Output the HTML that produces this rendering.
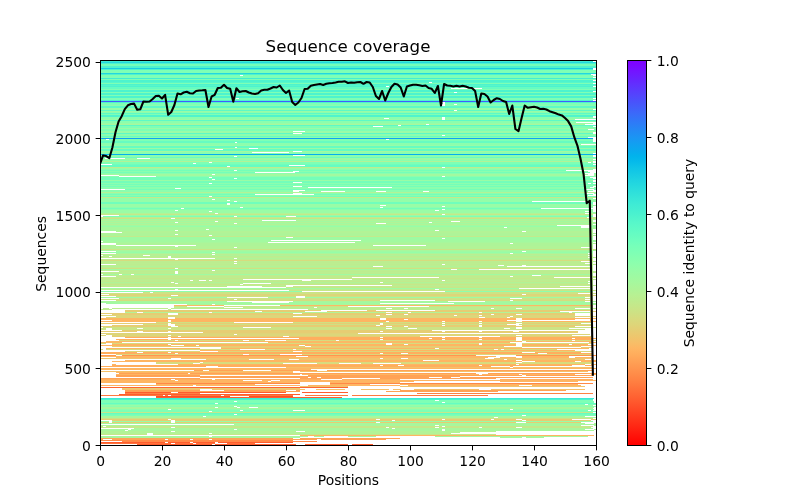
<!DOCTYPE html>
<html><head><meta charset="utf-8"><title>Sequence coverage</title>
<style>html,body{margin:0;padding:0;background:#fff;width:800px;height:500px;overflow:hidden}svg{display:block}text{font-family:'DejaVu Sans','Liberation Sans',sans-serif;font-size:13.889px;fill:#000}</style>
</head><body>
<svg width="800" height="500" viewBox="0 0 800 500">
<defs><linearGradient id="cb" x1="0" y1="0" x2="0" y2="1"><stop offset="0.0000" stop-color="#8000ff"/><stop offset="0.0156" stop-color="#7a09ff"/><stop offset="0.0312" stop-color="#7216ff"/><stop offset="0.0469" stop-color="#6922fe"/><stop offset="0.0625" stop-color="#622ffe"/><stop offset="0.0781" stop-color="#5a3bfd"/><stop offset="0.0938" stop-color="#5247fc"/><stop offset="0.1094" stop-color="#4953fb"/><stop offset="0.1250" stop-color="#425ffa"/><stop offset="0.1406" stop-color="#3a6bf9"/><stop offset="0.1562" stop-color="#3176f8"/><stop offset="0.1719" stop-color="#2981f6"/><stop offset="0.1875" stop-color="#218cf4"/><stop offset="0.2031" stop-color="#1a96f3"/><stop offset="0.2188" stop-color="#11a0f1"/><stop offset="0.2344" stop-color="#09a9ee"/><stop offset="0.2500" stop-color="#01b3ec"/><stop offset="0.2656" stop-color="#06bbea"/><stop offset="0.2812" stop-color="#0fc4e7"/><stop offset="0.2969" stop-color="#17cbe4"/><stop offset="0.3125" stop-color="#1fd3e1"/><stop offset="0.3281" stop-color="#26dade"/><stop offset="0.3438" stop-color="#2fe0db"/><stop offset="0.3594" stop-color="#37e6d8"/><stop offset="0.3750" stop-color="#3febd5"/><stop offset="0.3906" stop-color="#46efd1"/><stop offset="0.4062" stop-color="#4ef3cd"/><stop offset="0.4219" stop-color="#57f7ca"/><stop offset="0.4375" stop-color="#5efac6"/><stop offset="0.4531" stop-color="#66fcc2"/><stop offset="0.4688" stop-color="#6efebe"/><stop offset="0.4844" stop-color="#77ffb9"/><stop offset="0.5000" stop-color="#7effb5"/><stop offset="0.5156" stop-color="#86ffb0"/><stop offset="0.5312" stop-color="#8efeac"/><stop offset="0.5469" stop-color="#97fca7"/><stop offset="0.5625" stop-color="#9efaa2"/><stop offset="0.5781" stop-color="#a6f89d"/><stop offset="0.5938" stop-color="#aef498"/><stop offset="0.6094" stop-color="#b7f193"/><stop offset="0.6250" stop-color="#beec8e"/><stop offset="0.6406" stop-color="#c6e789"/><stop offset="0.6562" stop-color="#cee184"/><stop offset="0.6719" stop-color="#d7db7e"/><stop offset="0.6875" stop-color="#ded579"/><stop offset="0.7031" stop-color="#e6cd73"/><stop offset="0.7188" stop-color="#eec66d"/><stop offset="0.7344" stop-color="#f7be68"/><stop offset="0.7500" stop-color="#feb562"/><stop offset="0.7656" stop-color="#ffac5c"/><stop offset="0.7812" stop-color="#ffa256"/><stop offset="0.7969" stop-color="#ff9850"/><stop offset="0.8125" stop-color="#ff8e4a"/><stop offset="0.8281" stop-color="#ff8444"/><stop offset="0.8438" stop-color="#ff793e"/><stop offset="0.8594" stop-color="#ff6d38"/><stop offset="0.8750" stop-color="#ff6232"/><stop offset="0.8906" stop-color="#ff562c"/><stop offset="0.9062" stop-color="#ff4a26"/><stop offset="0.9219" stop-color="#ff3e1f"/><stop offset="0.9375" stop-color="#ff3219"/><stop offset="0.9531" stop-color="#ff2613"/><stop offset="0.9688" stop-color="#ff190d"/><stop offset="0.9844" stop-color="#ff0d06"/><stop offset="1.0000" stop-color="#ff0000"/></linearGradient>
<clipPath id="ax"><rect x="100" y="60" width="496" height="385"/></clipPath></defs>
<rect width="800" height="500" fill="#fff"/>
<g shape-rendering="crispEdges">
<rect x="100" y="60" width="496" height="2" fill="#3dead5"/>
<rect x="100" y="62" width="496" height="1" fill="#22d6e0"/>
<rect x="100" y="63" width="496" height="1" fill="#4df3ce"/>
<rect x="100" y="64" width="496" height="2" fill="#74feba"/>
<rect x="100" y="66" width="496" height="2" fill="#4df3ce"/>
<rect x="100" y="68" width="496" height="1" fill="#19cde4"/>
<rect x="100" y="69" width="496" height="1" fill="#4df3ce"/>
<rect x="100" y="70" width="496" height="3" fill="#7effb5"/>
<rect x="100" y="73" width="496" height="1" fill="#22d6e0"/>
<rect x="100" y="74" width="496" height="1" fill="#4df3ce"/>
<rect x="100" y="75" width="496" height="3" fill="#7effb5"/>
<rect x="100" y="78" width="496" height="1" fill="#42edd3"/>
<rect x="100" y="79" width="496" height="1" fill="#7effb5"/>
<rect x="100" y="80" width="496" height="2" fill="#4df3ce"/>
<rect x="100" y="82" width="496" height="1" fill="#57f7ca"/>
<rect x="100" y="83" width="496" height="1" fill="#7effb5"/>
<rect x="100" y="84" width="496" height="1" fill="#4df3ce"/>
<rect x="100" y="85" width="496" height="1" fill="#57f7ca"/>
<rect x="100" y="86" width="496" height="1" fill="#4df3ce"/>
<rect x="100" y="87" width="496" height="2" fill="#66fcc2"/>
<rect x="100" y="89" width="496" height="1" fill="#7effb5"/>
<rect x="100" y="90" width="496" height="2" fill="#4df3ce"/>
<rect x="100" y="92" width="496" height="1" fill="#7effb5"/>
<rect x="100" y="93" width="496" height="2" fill="#4df3ce"/>
<rect x="100" y="95" width="496" height="1" fill="#7effb5"/>
<rect x="100" y="96" width="496" height="2" fill="#4df3ce"/>
<rect x="100" y="98" width="496" height="2" fill="#7effb5"/>
<rect x="100" y="100" width="496" height="1" fill="#4df3ce"/>
<rect x="100" y="101" width="496" height="1" fill="#435cfb"/>
<rect x="100" y="102" width="496" height="1" fill="#4df3ce"/>
<rect x="100" y="103" width="496" height="2" fill="#7effb5"/>
<rect x="100" y="105" width="496" height="1" fill="#8bfeae"/>
<rect x="100" y="106" width="496" height="2" fill="#5df9c7"/>
<rect x="100" y="108" width="496" height="2" fill="#95fda8"/>
<rect x="100" y="110" width="496" height="1" fill="#5df9c7"/>
<rect x="100" y="111" width="496" height="1" fill="#99fca6"/>
<rect x="100" y="112" width="496" height="1" fill="#8bfeae"/>
<rect x="100" y="113" width="496" height="1" fill="#5df9c7"/>
<rect x="100" y="114" width="496" height="1" fill="#7effb5"/>
<rect x="100" y="115" width="496" height="2" fill="#50f4cc"/>
<rect x="100" y="117" width="496" height="2" fill="#8bfeae"/>
<rect x="100" y="119" width="496" height="1" fill="#99fca6"/>
<rect x="100" y="120" width="496" height="1" fill="#5df9c7"/>
<rect x="100" y="121" width="496" height="2" fill="#8bfeae"/>
<rect x="100" y="123" width="496" height="1" fill="#99fca6"/>
<rect x="100" y="124" width="496" height="1" fill="#a8f79c"/>
<rect x="100" y="125" width="496" height="1" fill="#5df9c7"/>
<rect x="100" y="126" width="496" height="2" fill="#7effb5"/>
<rect x="100" y="128" width="496" height="1" fill="#99fca6"/>
<rect x="100" y="129" width="496" height="2" fill="#7effb5"/>
<rect x="100" y="131" width="496" height="2" fill="#99fca6"/>
<rect x="100" y="133" width="496" height="1" fill="#5df9c7"/>
<rect x="100" y="134" width="496" height="2" fill="#8bfeae"/>
<rect x="100" y="136" width="496" height="1" fill="#66fcc2"/>
<rect x="100" y="137" width="496" height="1" fill="#8bfeae"/>
<rect x="100" y="138" width="496" height="1" fill="#10a2f0"/>
<rect x="100" y="139" width="496" height="2" fill="#7effb5"/>
<rect x="100" y="141" width="496" height="2" fill="#66fcc2"/>
<rect x="100" y="143" width="496" height="2" fill="#8bfeae"/>
<rect x="100" y="145" width="496" height="1" fill="#95fda8"/>
<rect x="100" y="146" width="496" height="2" fill="#66fcc2"/>
<rect x="100" y="148" width="496" height="1" fill="#99fca6"/>
<rect x="100" y="149" width="496" height="2" fill="#66fcc2"/>
<rect x="100" y="151" width="496" height="1" fill="#a2f9a0"/>
<rect x="100" y="152" width="496" height="2" fill="#8bfeae"/>
<rect x="100" y="154" width="496" height="1" fill="#05aeed"/>
<rect x="100" y="155" width="496" height="2" fill="#8bfeae"/>
<rect x="100" y="157" width="496" height="1" fill="#6bfdc0"/>
<rect x="100" y="158" width="496" height="2" fill="#99fca6"/>
<rect x="100" y="160" width="496" height="1" fill="#8bfeae"/>
<rect x="100" y="161" width="496" height="1" fill="#b2f396"/>
<rect x="100" y="162" width="496" height="2" fill="#7effb5"/>
<rect x="100" y="164" width="496" height="1" fill="#70febc"/>
<rect x="100" y="165" width="496" height="2" fill="#66fcc2"/>
<rect x="100" y="167" width="496" height="1" fill="#bced8f"/>
<rect x="100" y="168" width="496" height="1" fill="#99fca6"/>
<rect x="100" y="169" width="496" height="1" fill="#8bfeae"/>
<rect x="100" y="170" width="496" height="1" fill="#74feba"/>
<rect x="100" y="171" width="496" height="1" fill="#8bfeae"/>
<rect x="100" y="172" width="496" height="1" fill="#74feba"/>
<rect x="100" y="173" width="496" height="1" fill="#8bfeae"/>
<rect x="100" y="174" width="496" height="2" fill="#a2f9a0"/>
<rect x="100" y="176" width="496" height="1" fill="#8bfeae"/>
<rect x="100" y="177" width="496" height="3" fill="#74feba"/>
<rect x="100" y="180" width="496" height="1" fill="#99fca6"/>
<rect x="100" y="181" width="496" height="2" fill="#74feba"/>
<rect x="100" y="183" width="496" height="1" fill="#8bfeae"/>
<rect x="100" y="184" width="496" height="1" fill="#74feba"/>
<rect x="100" y="185" width="496" height="1" fill="#8bfeae"/>
<rect x="100" y="186" width="496" height="1" fill="#74feba"/>
<rect x="100" y="187" width="496" height="2" fill="#8bfeae"/>
<rect x="100" y="189" width="496" height="1" fill="#74feba"/>
<rect x="100" y="190" width="496" height="2" fill="#8bfeae"/>
<rect x="100" y="192" width="496" height="1" fill="#b2f396"/>
<rect x="100" y="193" width="496" height="1" fill="#8bfeae"/>
<rect x="100" y="194" width="496" height="1" fill="#74feba"/>
<rect x="100" y="195" width="496" height="1" fill="#8bfeae"/>
<rect x="100" y="196" width="496" height="1" fill="#74feba"/>
<rect x="100" y="197" width="496" height="1" fill="#c2ea8c"/>
<rect x="100" y="198" width="496" height="4" fill="#95fda8"/>
<rect x="100" y="202" width="496" height="2" fill="#70febc"/>
<rect x="100" y="204" width="496" height="3" fill="#99fca6"/>
<rect x="100" y="207" width="496" height="1" fill="#8bfeae"/>
<rect x="100" y="208" width="496" height="1" fill="#74feba"/>
<rect x="100" y="209" width="496" height="1" fill="#8bfeae"/>
<rect x="100" y="210" width="496" height="3" fill="#99fca6"/>
<rect x="100" y="213" width="496" height="1" fill="#b2f396"/>
<rect x="100" y="214" width="496" height="1" fill="#c6e789"/>
<rect x="100" y="215" width="496" height="1" fill="#99fca6"/>
<rect x="100" y="216" width="496" height="1" fill="#7bffb7"/>
<rect x="100" y="217" width="496" height="1" fill="#bced8f"/>
<rect x="100" y="218" width="496" height="1" fill="#cce385"/>
<rect x="100" y="219" width="496" height="1" fill="#a2f9a0"/>
<rect x="100" y="220" width="496" height="1" fill="#b2f396"/>
<rect x="100" y="221" width="496" height="1" fill="#a2f9a0"/>
<rect x="100" y="222" width="496" height="1" fill="#b2f396"/>
<rect x="100" y="223" width="496" height="1" fill="#a2f9a0"/>
<rect x="100" y="224" width="496" height="1" fill="#b2f396"/>
<rect x="100" y="225" width="496" height="1" fill="#a2f9a0"/>
<rect x="100" y="226" width="496" height="1" fill="#95fda8"/>
<rect x="100" y="227" width="496" height="4" fill="#a8f79c"/>
<rect x="100" y="231" width="496" height="2" fill="#b2f396"/>
<rect x="100" y="233" width="496" height="3" fill="#aef498"/>
<rect x="100" y="236" width="496" height="1" fill="#c2ea8c"/>
<rect x="100" y="237" width="496" height="3" fill="#9efaa2"/>
<rect x="100" y="240" width="496" height="2" fill="#a2f9a0"/>
<rect x="100" y="242" width="496" height="1" fill="#a8f79c"/>
<rect x="100" y="243" width="496" height="3" fill="#aef498"/>
<rect x="100" y="246" width="496" height="3" fill="#b2f396"/>
<rect x="100" y="249" width="496" height="1" fill="#cce385"/>
<rect x="100" y="250" width="496" height="1" fill="#a8f79c"/>
<rect x="100" y="251" width="496" height="1" fill="#9efaa2"/>
<rect x="100" y="252" width="496" height="1" fill="#95fda8"/>
<rect x="100" y="253" width="496" height="1" fill="#a8f79c"/>
<rect x="100" y="254" width="496" height="1" fill="#bbee91"/>
<rect x="100" y="255" width="496" height="1" fill="#b0f397"/>
<rect x="100" y="256" width="496" height="1" fill="#bced8f"/>
<rect x="100" y="257" width="496" height="1" fill="#bbee91"/>
<rect x="100" y="258" width="496" height="1" fill="#b0f397"/>
<rect x="100" y="259" width="496" height="1" fill="#bced8f"/>
<rect x="100" y="260" width="496" height="1" fill="#d7db7e"/>
<rect x="100" y="261" width="496" height="1" fill="#bbee91"/>
<rect x="100" y="262" width="496" height="1" fill="#bced8f"/>
<rect x="100" y="263" width="496" height="1" fill="#bbee91"/>
<rect x="100" y="264" width="496" height="1" fill="#bced8f"/>
<rect x="100" y="265" width="496" height="1" fill="#bbee91"/>
<rect x="100" y="266" width="496" height="1" fill="#b0f397"/>
<rect x="100" y="267" width="496" height="1" fill="#bced8f"/>
<rect x="100" y="268" width="496" height="1" fill="#d0e082"/>
<rect x="100" y="269" width="496" height="1" fill="#a0faa1"/>
<rect x="100" y="270" width="496" height="1" fill="#bbee91"/>
<rect x="100" y="271" width="496" height="1" fill="#bced8f"/>
<rect x="100" y="272" width="496" height="1" fill="#bbee91"/>
<rect x="100" y="273" width="496" height="1" fill="#bced8f"/>
<rect x="100" y="274" width="496" height="1" fill="#a0faa1"/>
<rect x="100" y="275" width="496" height="1" fill="#bbee91"/>
<rect x="100" y="276" width="496" height="1" fill="#c2ea8c"/>
<rect x="100" y="277" width="496" height="1" fill="#bced8f"/>
<rect x="100" y="278" width="496" height="1" fill="#c6e789"/>
<rect x="100" y="279" width="496" height="1" fill="#bced8f"/>
<rect x="100" y="280" width="496" height="1" fill="#bbee91"/>
<rect x="100" y="281" width="496" height="1" fill="#c2ea8c"/>
<rect x="100" y="282" width="496" height="1" fill="#b0f397"/>
<rect x="100" y="283" width="496" height="1" fill="#bced8f"/>
<rect x="100" y="284" width="496" height="1" fill="#c6e789"/>
<rect x="100" y="285" width="496" height="1" fill="#bbee91"/>
<rect x="100" y="286" width="496" height="1" fill="#c2ea8c"/>
<rect x="100" y="287" width="496" height="1" fill="#c6e789"/>
<rect x="100" y="288" width="496" height="1" fill="#a0faa1"/>
<rect x="100" y="289" width="496" height="1" fill="#bced8f"/>
<rect x="100" y="290" width="496" height="1" fill="#c6e789"/>
<rect x="100" y="291" width="496" height="1" fill="#8efeac"/>
<rect x="100" y="292" width="496" height="2" fill="#cce385"/>
<rect x="100" y="294" width="496" height="2" fill="#dcd67a"/>
<rect x="100" y="296" width="496" height="1" fill="#d0e082"/>
<rect x="100" y="297" width="496" height="1" fill="#9efaa2"/>
<rect x="100" y="298" width="496" height="1" fill="#cce385"/>
<rect x="100" y="299" width="496" height="1" fill="#d0e082"/>
<rect x="100" y="300" width="496" height="1" fill="#d7db7e"/>
<rect x="100" y="301" width="496" height="1" fill="#a8f79c"/>
<rect x="100" y="302" width="496" height="2" fill="#a2f9a0"/>
<rect x="100" y="304" width="496" height="1" fill="#a8f79c"/>
<rect x="100" y="305" width="496" height="1" fill="#fbb965"/>
<rect x="100" y="306" width="496" height="1" fill="#cce385"/>
<rect x="100" y="307" width="496" height="3" fill="#bced8f"/>
<rect x="100" y="310" width="496" height="2" fill="#e6cd73"/>
<rect x="100" y="312" width="496" height="1" fill="#b2f396"/>
<rect x="100" y="313" width="496" height="2" fill="#e6cd73"/>
<rect x="100" y="315" width="496" height="3" fill="#dcd67a"/>
<rect x="100" y="318" width="496" height="4" fill="#feb562"/>
<rect x="100" y="322" width="496" height="1" fill="#d0e082"/>
<rect x="100" y="323" width="496" height="1" fill="#e6cd73"/>
<rect x="100" y="324" width="496" height="1" fill="#d0e082"/>
<rect x="100" y="325" width="496" height="2" fill="#e6cd73"/>
<rect x="100" y="327" width="496" height="3" fill="#cce385"/>
<rect x="100" y="330" width="496" height="3" fill="#e6cd73"/>
<rect x="100" y="333" width="496" height="1" fill="#e0d377"/>
<rect x="100" y="334" width="496" height="2" fill="#dcd67a"/>
<rect x="100" y="336" width="496" height="1" fill="#e6cd73"/>
<rect x="100" y="337" width="496" height="3" fill="#ffae5e"/>
<rect x="100" y="340" width="496" height="1" fill="#d7db7e"/>
<rect x="100" y="341" width="496" height="2" fill="#fbb965"/>
<rect x="100" y="343" width="496" height="1" fill="#d7db7e"/>
<rect x="100" y="344" width="496" height="2" fill="#feb562"/>
<rect x="100" y="346" width="496" height="2" fill="#e6cd73"/>
<rect x="100" y="348" width="496" height="1" fill="#feb562"/>
<rect x="100" y="349" width="496" height="1" fill="#d7db7e"/>
<rect x="100" y="350" width="496" height="1" fill="#feb562"/>
<rect x="100" y="351" width="496" height="1" fill="#dcd67a"/>
<rect x="100" y="352" width="496" height="2" fill="#ffae5e"/>
<rect x="100" y="354" width="496" height="1" fill="#dcd67a"/>
<rect x="100" y="355" width="496" height="1" fill="#ff964f"/>
<rect x="100" y="356" width="496" height="2" fill="#feb562"/>
<rect x="100" y="358" width="496" height="2" fill="#f0c46c"/>
<rect x="100" y="360" width="496" height="2" fill="#feb562"/>
<rect x="100" y="362" width="496" height="2" fill="#d7db7e"/>
<rect x="100" y="364" width="496" height="1" fill="#feb562"/>
<rect x="100" y="365" width="496" height="2" fill="#ffae5e"/>
<rect x="100" y="367" width="496" height="1" fill="#f5c069"/>
<rect x="100" y="368" width="496" height="2" fill="#feb562"/>
<rect x="100" y="370" width="496" height="1" fill="#ffa256"/>
<rect x="100" y="371" width="496" height="1" fill="#f5c069"/>
<rect x="100" y="372" width="496" height="1" fill="#feb562"/>
<rect x="100" y="373" width="496" height="1" fill="#ffa256"/>
<rect x="100" y="374" width="496" height="1" fill="#feb562"/>
<rect x="100" y="375" width="496" height="4" fill="#ffa256"/>
<rect x="100" y="379" width="496" height="1" fill="#ffae5e"/>
<rect x="100" y="380" width="496" height="3" fill="#feb562"/>
<rect x="100" y="383" width="496" height="1" fill="#ff8947"/>
<rect x="100" y="384" width="496" height="2" fill="#feb562"/>
<rect x="100" y="386" width="496" height="1" fill="#f0c46c"/>
<rect x="100" y="387" width="496" height="1" fill="#ff6533"/>
<rect x="100" y="388" width="496" height="1" fill="#e6cd73"/>
<rect x="100" y="389" width="496" height="1" fill="#f5c069"/>
<rect x="100" y="390" width="496" height="2" fill="#ffa256"/>
<rect x="100" y="392" width="496" height="1" fill="#ff5c2f"/>
<rect x="100" y="393" width="496" height="1" fill="#ff8143"/>
<rect x="100" y="394" width="496" height="1" fill="#ff5c2f"/>
<rect x="100" y="395" width="496" height="1" fill="#ff793e"/>
<rect x="100" y="396" width="496" height="1" fill="#ff4d27"/>
<rect x="100" y="397" width="496" height="1" fill="#ff5c2f"/>
<rect x="100" y="398" width="496" height="1" fill="#3dead5"/>
<rect x="100" y="399" width="496" height="1" fill="#4df3ce"/>
<rect x="100" y="400" width="496" height="3" fill="#7effb5"/>
<rect x="100" y="403" width="496" height="1" fill="#66fcc2"/>
<rect x="100" y="404" width="496" height="1" fill="#7effb5"/>
<rect x="100" y="405" width="496" height="1" fill="#99fca6"/>
<rect x="100" y="406" width="496" height="1" fill="#8bfeae"/>
<rect x="100" y="407" width="496" height="2" fill="#a8f79c"/>
<rect x="100" y="409" width="496" height="1" fill="#8bfeae"/>
<rect x="100" y="410" width="496" height="2" fill="#7effb5"/>
<rect x="100" y="412" width="496" height="1" fill="#c6e789"/>
<rect x="100" y="413" width="496" height="1" fill="#66fcc2"/>
<rect x="100" y="414" width="496" height="1" fill="#74feba"/>
<rect x="100" y="415" width="496" height="1" fill="#7effb5"/>
<rect x="100" y="416" width="496" height="2" fill="#a8f79c"/>
<rect x="100" y="418" width="496" height="1" fill="#cce385"/>
<rect x="100" y="419" width="496" height="2" fill="#e6cd73"/>
<rect x="100" y="421" width="496" height="1" fill="#99fca6"/>
<rect x="100" y="422" width="496" height="1" fill="#e6cd73"/>
<rect x="100" y="423" width="496" height="3" fill="#a8f79c"/>
<rect x="100" y="426" width="496" height="2" fill="#c6e789"/>
<rect x="100" y="428" width="496" height="3" fill="#a8f79c"/>
<rect x="100" y="431" width="496" height="3" fill="#b2f396"/>
<rect x="100" y="434" width="496" height="1" fill="#c6e789"/>
<rect x="100" y="435" width="496" height="1" fill="#feb562"/>
<rect x="100" y="436" width="496" height="2" fill="#a8f79c"/>
<rect x="100" y="438" width="496" height="2" fill="#ffa256"/>
<rect x="100" y="440" width="496" height="2" fill="#ff8947"/>
<rect x="100" y="442" width="496" height="1" fill="#ff5c2f"/>
<rect x="100" y="443" width="496" height="1" fill="#ff733b"/>
<rect x="100" y="444" width="496" height="1" fill="#ff5c2f"/>
<rect x="175" y="246" width="2.5" height="1" fill="#fff"/>
<rect x="593" y="246" width="3" height="1" fill="#fff"/>
<rect x="101" y="251" width="15" height="1" fill="#fff"/>
<rect x="522" y="251" width="3.5" height="1" fill="#fff"/>
<rect x="593" y="251" width="3" height="1" fill="#fff"/>
<rect x="212" y="252" width="3" height="1" fill="#fff"/>
<rect x="593" y="252" width="3" height="1" fill="#fff"/>
<rect x="101" y="253" width="15" height="1" fill="#fff"/>
<rect x="510" y="253" width="3" height="1" fill="#fff"/>
<rect x="588" y="253" width="2" height="1" fill="#fff"/>
<rect x="593" y="253" width="3" height="1" fill="#fff"/>
<rect x="212" y="254" width="3" height="1" fill="#fff"/>
<rect x="593" y="254" width="3" height="1" fill="#fff"/>
<rect x="143" y="255" width="7" height="1" fill="#fff"/>
<rect x="101" y="255" width="2" height="1" fill="#fff"/>
<rect x="588" y="255" width="2" height="1" fill="#fff"/>
<rect x="593" y="255" width="3" height="1" fill="#fff"/>
<rect x="109" y="256" width="3" height="1" fill="#fff"/>
<rect x="168" y="256" width="2.5" height="1" fill="#fff"/>
<rect x="593" y="256" width="3" height="1" fill="#fff"/>
<rect x="168" y="257" width="2.5" height="1" fill="#fff"/>
<rect x="588" y="257" width="2" height="1" fill="#fff"/>
<rect x="101" y="258" width="114" height="1" fill="#fff"/>
<rect x="234" y="258" width="2.6999999999999886" height="1" fill="#fff"/>
<rect x="593" y="258" width="3" height="1" fill="#fff"/>
<rect x="175" y="259" width="2.5" height="1" fill="#fff"/>
<rect x="593" y="259" width="3" height="1" fill="#fff"/>
<rect x="101" y="264" width="15" height="1" fill="#fff"/>
<rect x="441.8" y="264" width="3.099999999999966" height="1" fill="#fff"/>
<rect x="175" y="268" width="2.5" height="1" fill="#fff"/>
<rect x="593" y="268" width="3" height="1" fill="#fff"/>
<rect x="212" y="270" width="3" height="1" fill="#fff"/>
<rect x="593" y="270" width="3" height="1" fill="#fff"/>
<rect x="101" y="271" width="17.599999999999994" height="1" fill="#fff"/>
<rect x="175" y="271" width="2.5" height="1" fill="#fff"/>
<rect x="175" y="272" width="2.5" height="1" fill="#fff"/>
<rect x="175" y="273" width="2.5" height="1" fill="#fff"/>
<rect x="593" y="273" width="3" height="1" fill="#fff"/>
<rect x="101" y="274" width="2" height="1" fill="#fff"/>
<rect x="119" y="274" width="3" height="1" fill="#fff"/>
<rect x="131" y="274" width="3" height="1" fill="#fff"/>
<rect x="593" y="274" width="3" height="1" fill="#fff"/>
<rect x="101" y="276" width="15" height="1" fill="#fff"/>
<rect x="510" y="276" width="3" height="1" fill="#fff"/>
<rect x="190" y="280" width="3" height="1" fill="#fff"/>
<rect x="199" y="280" width="7" height="1" fill="#fff"/>
<rect x="209" y="280" width="2.5999999999999943" height="1" fill="#fff"/>
<rect x="301.5" y="280" width="9.5" height="1" fill="#fff"/>
<rect x="441.8" y="280" width="3.099999999999966" height="1" fill="#fff"/>
<rect x="593" y="280" width="3" height="1" fill="#fff"/>
<rect x="171" y="282" width="3.4000000000000057" height="1" fill="#fff"/>
<rect x="379.8" y="282" width="3.099999999999966" height="1" fill="#fff"/>
<rect x="593" y="282" width="3" height="1" fill="#fff"/>
<rect x="175" y="283" width="2.5" height="1" fill="#fff"/>
<rect x="242.6" y="283" width="27.900000000000006" height="1" fill="#fff"/>
<rect x="588" y="283" width="2" height="1" fill="#fff"/>
<rect x="593" y="283" width="3" height="1" fill="#fff"/>
<rect x="101" y="287" width="185" height="1" fill="#fff"/>
<rect x="593" y="287" width="3" height="1" fill="#fff"/>
<rect x="175" y="289" width="2.5" height="1" fill="#fff"/>
<rect x="435" y="289" width="3.6999999999999886" height="1" fill="#fff"/>
<rect x="593" y="289" width="3" height="1" fill="#fff"/>
<rect x="301.5" y="291" width="143.5" height="1" fill="#fff"/>
<rect x="593" y="291" width="3" height="1" fill="#fff"/>
<rect x="101" y="292" width="41.599999999999994" height="1" fill="#fff"/>
<rect x="150" y="292" width="2.6999999999999886" height="1" fill="#fff"/>
<rect x="593" y="292" width="3" height="1" fill="#fff"/>
<rect x="101" y="294" width="8" height="1" fill="#fff"/>
<rect x="522" y="294" width="3.5" height="1" fill="#fff"/>
<rect x="593" y="294" width="3" height="1" fill="#fff"/>
<rect x="171" y="295" width="6.5" height="1" fill="#fff"/>
<rect x="101" y="296" width="15" height="1" fill="#fff"/>
<rect x="296" y="296" width="9" height="1" fill="#fff"/>
<rect x="593" y="296" width="3" height="1" fill="#fff"/>
<rect x="101" y="298" width="17.599999999999994" height="1" fill="#fff"/>
<rect x="168" y="298" width="3" height="1" fill="#fff"/>
<rect x="510" y="298" width="12" height="1" fill="#fff"/>
<rect x="593" y="298" width="3" height="1" fill="#fff"/>
<rect x="101" y="300" width="15" height="1" fill="#fff"/>
<rect x="379.8" y="300" width="55.0" height="1" fill="#fff"/>
<rect x="510" y="300" width="3" height="1" fill="#fff"/>
<rect x="593" y="300" width="3" height="1" fill="#fff"/>
<rect x="101" y="303" width="5" height="1" fill="#fff"/>
<rect x="379.8" y="303" width="74.09999999999997" height="1" fill="#fff"/>
<rect x="101" y="304" width="73" height="1" fill="#fff"/>
<rect x="174" y="304" width="13" height="1" fill="#fff"/>
<rect x="212" y="304" width="3" height="1" fill="#fff"/>
<rect x="101" y="305" width="73" height="1" fill="#fff"/>
<rect x="224" y="305" width="56" height="1" fill="#fff"/>
<rect x="593" y="305" width="3" height="1" fill="#fff"/>
<rect x="101" y="306" width="73" height="1" fill="#fff"/>
<rect x="187" y="306" width="37" height="1" fill="#fff"/>
<rect x="348" y="306" width="80.60000000000002" height="1" fill="#fff"/>
<rect x="593" y="306" width="3" height="1" fill="#fff"/>
<rect x="101" y="307" width="73" height="1" fill="#fff"/>
<rect x="224" y="307" width="19" height="1" fill="#fff"/>
<rect x="314" y="307" width="3" height="1" fill="#fff"/>
<rect x="593" y="307" width="3" height="1" fill="#fff"/>
<rect x="101" y="308" width="2" height="1" fill="#fff"/>
<rect x="109" y="308" width="3" height="1" fill="#fff"/>
<rect x="168" y="308" width="3" height="1" fill="#fff"/>
<rect x="386" y="308" width="5.899999999999977" height="1" fill="#fff"/>
<rect x="403.8" y="308" width="4.199999999999989" height="1" fill="#fff"/>
<rect x="491" y="308" width="2.6999999999999886" height="1" fill="#fff"/>
<rect x="516" y="308" width="6" height="1" fill="#fff"/>
<rect x="575" y="308" width="15" height="1" fill="#fff"/>
<rect x="111.6" y="309" width="56.400000000000006" height="1" fill="#fff"/>
<rect x="171" y="309" width="53" height="1" fill="#fff"/>
<rect x="224" y="309" width="84" height="1" fill="#fff"/>
<rect x="593" y="309" width="3" height="1" fill="#fff"/>
<rect x="101" y="310" width="23.799999999999997" height="1" fill="#fff"/>
<rect x="321" y="310" width="27" height="1" fill="#fff"/>
<rect x="348" y="310" width="19" height="1" fill="#fff"/>
<rect x="376" y="310" width="58.80000000000001" height="1" fill="#fff"/>
<rect x="593" y="310" width="3" height="1" fill="#fff"/>
<rect x="101" y="311" width="23.799999999999997" height="1" fill="#fff"/>
<rect x="255" y="311" width="7" height="1" fill="#fff"/>
<rect x="305" y="311" width="22" height="1" fill="#fff"/>
<rect x="560" y="311" width="30" height="1" fill="#fff"/>
<rect x="101" y="312" width="23.799999999999997" height="1" fill="#fff"/>
<rect x="137" y="312" width="5.599999999999994" height="1" fill="#fff"/>
<rect x="209" y="312" width="2.5999999999999943" height="1" fill="#fff"/>
<rect x="386" y="312" width="5.899999999999977" height="1" fill="#fff"/>
<rect x="408" y="312" width="2.8000000000000114" height="1" fill="#fff"/>
<rect x="569" y="312" width="3" height="1" fill="#fff"/>
<rect x="479" y="312" width="3" height="1" fill="#fff"/>
<rect x="593" y="312" width="3" height="1" fill="#fff"/>
<rect x="168" y="313" width="9.5" height="1" fill="#fff"/>
<rect x="293" y="313" width="8.5" height="1" fill="#fff"/>
<rect x="575" y="313" width="15" height="1" fill="#fff"/>
<rect x="593" y="313" width="3" height="1" fill="#fff"/>
<rect x="168" y="314" width="9.5" height="1" fill="#fff"/>
<rect x="101" y="314" width="11" height="1" fill="#fff"/>
<rect x="386" y="314" width="5.899999999999977" height="1" fill="#fff"/>
<rect x="403.8" y="314" width="4.199999999999989" height="1" fill="#fff"/>
<rect x="491" y="314" width="2.6999999999999886" height="1" fill="#fff"/>
<rect x="516" y="314" width="6" height="1" fill="#fff"/>
<rect x="575" y="314" width="15" height="1" fill="#fff"/>
<rect x="593" y="314" width="3" height="1" fill="#fff"/>
<rect x="101" y="316" width="15" height="1" fill="#fff"/>
<rect x="293" y="316" width="24" height="1" fill="#fff"/>
<rect x="510" y="316" width="3" height="1" fill="#fff"/>
<rect x="168" y="317" width="7" height="1" fill="#fff"/>
<rect x="101" y="317" width="5" height="1" fill="#fff"/>
<rect x="479" y="317" width="5.699999999999989" height="1" fill="#fff"/>
<rect x="507" y="317" width="3" height="1" fill="#fff"/>
<rect x="575" y="317" width="15" height="1" fill="#fff"/>
<rect x="593" y="317" width="3" height="1" fill="#fff"/>
<rect x="168" y="318" width="7" height="1" fill="#fff"/>
<rect x="379.8" y="318" width="6.199999999999989" height="1" fill="#fff"/>
<rect x="516" y="318" width="6" height="1" fill="#fff"/>
<rect x="101" y="320" width="11" height="1" fill="#fff"/>
<rect x="168" y="320" width="3" height="1" fill="#fff"/>
<rect x="516" y="320" width="6" height="1" fill="#fff"/>
<rect x="507" y="320" width="83" height="1" fill="#fff"/>
<rect x="593" y="320" width="3" height="1" fill="#fff"/>
<rect x="168" y="321" width="3" height="1" fill="#fff"/>
<rect x="386" y="321" width="3" height="1" fill="#fff"/>
<rect x="441.8" y="321" width="3.099999999999966" height="1" fill="#fff"/>
<rect x="516" y="321" width="6" height="1" fill="#fff"/>
<rect x="479" y="321" width="3" height="1" fill="#fff"/>
<rect x="101" y="322" width="55" height="1" fill="#fff"/>
<rect x="234" y="322" width="59" height="1" fill="#fff"/>
<rect x="593" y="322" width="3" height="1" fill="#fff"/>
<rect x="234" y="247" width="2.6999999999999886" height="1" fill="#fff"/>
<rect x="581" y="247" width="9" height="1" fill="#fff"/>
<rect x="593" y="247" width="3" height="1" fill="#fff"/>
<rect x="234" y="261" width="2.6999999999999886" height="1" fill="#fff"/>
<rect x="581" y="261" width="9" height="1" fill="#fff"/>
<rect x="234" y="263" width="2.6999999999999886" height="1" fill="#fff"/>
<rect x="585" y="263" width="5" height="1" fill="#fff"/>
<rect x="593" y="263" width="3" height="1" fill="#fff"/>
<rect x="243" y="279" width="109" height="1" fill="#fff"/>
<rect x="239.5" y="284" width="3.0999999999999943" height="1" fill="#fff"/>
<rect x="593" y="284" width="3" height="1" fill="#fff"/>
<rect x="286" y="285" width="105.89999999999998" height="1" fill="#fff"/>
<rect x="227" y="286" width="35" height="1" fill="#fff"/>
<rect x="286" y="286" width="7" height="1" fill="#fff"/>
<rect x="560" y="286" width="30" height="1" fill="#fff"/>
<rect x="593" y="286" width="3" height="1" fill="#fff"/>
<rect x="296" y="297" width="9" height="1" fill="#fff"/>
<rect x="227" y="297" width="41" height="1" fill="#fff"/>
<rect x="585" y="297" width="5" height="1" fill="#fff"/>
<rect x="593" y="297" width="3" height="1" fill="#fff"/>
<rect x="234" y="299" width="2.6999999999999886" height="1" fill="#fff"/>
<rect x="585" y="299" width="5" height="1" fill="#fff"/>
<rect x="593" y="299" width="3" height="1" fill="#fff"/>
<rect x="227" y="301" width="66" height="1" fill="#fff"/>
<rect x="448" y="301" width="36.69999999999999" height="1" fill="#fff"/>
<rect x="585" y="301" width="5" height="1" fill="#fff"/>
<rect x="252" y="302" width="37" height="1" fill="#fff"/>
<rect x="593" y="302" width="3" height="1" fill="#fff"/>
<rect x="372.8" y="266" width="10.099999999999966" height="1" fill="#fff"/>
<rect x="507" y="266" width="83" height="1" fill="#fff"/>
<rect x="593" y="266" width="3" height="1" fill="#fff"/>
<rect x="451" y="269" width="5.800000000000011" height="1" fill="#fff"/>
<rect x="479" y="269" width="111" height="1" fill="#fff"/>
<rect x="593" y="269" width="3" height="1" fill="#fff"/>
<rect x="352" y="277" width="86.69999999999999" height="1" fill="#fff"/>
<rect x="554" y="277" width="36" height="1" fill="#fff"/>
<rect x="376" y="315" width="3.8000000000000114" height="1" fill="#fff"/>
<rect x="454" y="315" width="2.8000000000000114" height="1" fill="#fff"/>
<rect x="479" y="315" width="3" height="1" fill="#fff"/>
<rect x="575" y="315" width="15" height="1" fill="#fff"/>
<rect x="593" y="315" width="3" height="1" fill="#fff"/>
<rect x="379.8" y="319" width="6.199999999999989" height="1" fill="#fff"/>
<rect x="403.8" y="319" width="4.199999999999989" height="1" fill="#fff"/>
<rect x="516" y="319" width="6" height="1" fill="#fff"/>
<rect x="575" y="319" width="15" height="1" fill="#fff"/>
<rect x="593" y="319" width="3" height="1" fill="#fff"/>
<rect x="498" y="265" width="6" height="1" fill="#fff"/>
<rect x="522" y="265" width="3.5" height="1" fill="#fff"/>
<rect x="593" y="265" width="3" height="1" fill="#fff"/>
<rect x="532" y="275" width="9" height="1" fill="#fff"/>
<rect x="593" y="275" width="3" height="1" fill="#fff"/>
<rect x="588" y="281" width="2" height="1" fill="#fff"/>
<rect x="593" y="281" width="3" height="1" fill="#fff"/>
<rect x="519" y="288" width="71" height="1" fill="#fff"/>
<rect x="593" y="288" width="3" height="1" fill="#fff"/>
<rect x="578" y="293" width="12" height="1" fill="#fff"/>
<rect x="168" y="323" width="3" height="1" fill="#fff"/>
<rect x="380" y="323" width="3" height="1" fill="#fff"/>
<rect x="442" y="323" width="3" height="1" fill="#fff"/>
<rect x="479" y="323" width="3" height="1" fill="#fff"/>
<rect x="516" y="323" width="6" height="1" fill="#fff"/>
<rect x="581" y="323" width="15" height="1" fill="#fff"/>
<rect x="593" y="323" width="3" height="1" fill="#fff"/>
<rect x="101" y="324" width="42" height="1" fill="#fff"/>
<rect x="168" y="324" width="7" height="1" fill="#fff"/>
<rect x="380" y="324" width="3" height="1" fill="#fff"/>
<rect x="507" y="324" width="9" height="1" fill="#fff"/>
<rect x="516" y="324" width="3" height="1" fill="#fff"/>
<rect x="593" y="324" width="3" height="1" fill="#fff"/>
<rect x="101" y="325" width="11" height="1" fill="#fff"/>
<rect x="168" y="325" width="7" height="1" fill="#fff"/>
<rect x="376" y="325" width="4" height="1" fill="#fff"/>
<rect x="442" y="325" width="3" height="1" fill="#fff"/>
<rect x="479" y="325" width="3" height="1" fill="#fff"/>
<rect x="516" y="325" width="6" height="1" fill="#fff"/>
<rect x="593" y="325" width="3" height="1" fill="#fff"/>
<rect x="171" y="326" width="6.5" height="1" fill="#fff"/>
<rect x="386" y="326" width="6" height="1" fill="#fff"/>
<rect x="404" y="326" width="4" height="1" fill="#fff"/>
<rect x="479" y="326" width="3" height="1" fill="#fff"/>
<rect x="575" y="326" width="21" height="1" fill="#fff"/>
<rect x="593" y="326" width="3" height="1" fill="#fff"/>
<rect x="101" y="327" width="1.5" height="1" fill="#fff"/>
<rect x="243" y="327" width="28" height="1" fill="#fff"/>
<rect x="516" y="327" width="6" height="1" fill="#fff"/>
<rect x="137" y="328" width="6" height="1" fill="#fff"/>
<rect x="168" y="328" width="3" height="1" fill="#fff"/>
<rect x="105.6" y="328" width="6.400000000000006" height="1" fill="#fff"/>
<rect x="386" y="328" width="6" height="1" fill="#fff"/>
<rect x="408" y="328" width="9" height="1" fill="#fff"/>
<rect x="504" y="328" width="6" height="1" fill="#fff"/>
<rect x="516" y="328" width="6" height="1" fill="#fff"/>
<rect x="569" y="328" width="27" height="1" fill="#fff"/>
<rect x="593" y="328" width="3" height="1" fill="#fff"/>
<rect x="105.6" y="329" width="6.400000000000006" height="1" fill="#fff"/>
<rect x="585" y="329" width="11" height="1" fill="#fff"/>
<rect x="101" y="330" width="21" height="1" fill="#fff"/>
<rect x="432" y="330" width="68" height="1" fill="#fff"/>
<rect x="500" y="330" width="96" height="1" fill="#fff"/>
<rect x="593" y="330" width="3" height="1" fill="#fff"/>
<rect x="137" y="331" width="6" height="1" fill="#fff"/>
<rect x="168" y="331" width="3" height="1" fill="#fff"/>
<rect x="380" y="331" width="3" height="1" fill="#fff"/>
<rect x="442" y="331" width="3" height="1" fill="#fff"/>
<rect x="479" y="331" width="3" height="1" fill="#fff"/>
<rect x="513" y="331" width="6" height="1" fill="#fff"/>
<rect x="578" y="331" width="18" height="1" fill="#fff"/>
<rect x="593" y="331" width="3" height="1" fill="#fff"/>
<rect x="101" y="332" width="99" height="1" fill="#fff"/>
<rect x="200" y="332" width="3" height="1" fill="#fff"/>
<rect x="578" y="332" width="18" height="1" fill="#fff"/>
<rect x="593" y="332" width="3" height="1" fill="#fff"/>
<rect x="101" y="334" width="5" height="1" fill="#fff"/>
<rect x="234" y="334" width="3" height="1" fill="#fff"/>
<rect x="590" y="334" width="6" height="1" fill="#fff"/>
<rect x="105.6" y="335" width="6.400000000000006" height="1" fill="#fff"/>
<rect x="168" y="335" width="3" height="1" fill="#fff"/>
<rect x="516" y="335" width="6" height="1" fill="#fff"/>
<rect x="572" y="335" width="19" height="1" fill="#fff"/>
<rect x="593" y="335" width="3" height="1" fill="#fff"/>
<rect x="101" y="336" width="11" height="1" fill="#fff"/>
<rect x="177.5" y="336" width="3.0999999999999943" height="1" fill="#fff"/>
<rect x="283" y="336" width="6" height="1" fill="#fff"/>
<rect x="420" y="336" width="62" height="1" fill="#fff"/>
<rect x="482" y="336" width="18" height="1" fill="#fff"/>
<rect x="593" y="336" width="3" height="1" fill="#fff"/>
<rect x="101" y="337" width="24" height="1" fill="#fff"/>
<rect x="168" y="337" width="3" height="1" fill="#fff"/>
<rect x="380" y="337" width="3" height="1" fill="#fff"/>
<rect x="442" y="337" width="3" height="1" fill="#fff"/>
<rect x="479" y="337" width="3" height="1" fill="#fff"/>
<rect x="516" y="337" width="6" height="1" fill="#fff"/>
<rect x="591" y="337" width="5" height="1" fill="#fff"/>
<rect x="593" y="337" width="3" height="1" fill="#fff"/>
<rect x="101" y="338" width="24" height="1" fill="#fff"/>
<rect x="168" y="338" width="3" height="1" fill="#fff"/>
<rect x="125" y="338" width="174" height="1" fill="#fff"/>
<rect x="429" y="338" width="3" height="1" fill="#fff"/>
<rect x="516" y="338" width="6" height="1" fill="#fff"/>
<rect x="572" y="338" width="3" height="1" fill="#fff"/>
<rect x="101" y="339" width="14.599999999999994" height="1" fill="#fff"/>
<rect x="168" y="339" width="3" height="1" fill="#fff"/>
<rect x="380" y="339" width="3" height="1" fill="#fff"/>
<rect x="442" y="339" width="3" height="1" fill="#fff"/>
<rect x="479" y="339" width="3" height="1" fill="#fff"/>
<rect x="516" y="339" width="6" height="1" fill="#fff"/>
<rect x="593" y="339" width="3" height="1" fill="#fff"/>
<rect x="101" y="340" width="17.799999999999997" height="1" fill="#fff"/>
<rect x="175" y="340" width="3" height="1" fill="#fff"/>
<rect x="243" y="340" width="6" height="1" fill="#fff"/>
<rect x="265" y="340" width="21" height="1" fill="#fff"/>
<rect x="336" y="340" width="3" height="1" fill="#fff"/>
<rect x="516" y="340" width="6" height="1" fill="#fff"/>
<rect x="572" y="340" width="3" height="1" fill="#fff"/>
<rect x="101" y="341" width="5" height="1" fill="#fff"/>
<rect x="522" y="341" width="4" height="1" fill="#fff"/>
<rect x="593" y="341" width="3" height="1" fill="#fff"/>
<rect x="122" y="342" width="78" height="1" fill="#fff"/>
<rect x="200" y="342" width="68" height="1" fill="#fff"/>
<rect x="510" y="342" width="78.5" height="1" fill="#fff"/>
<rect x="105.6" y="343" width="6.400000000000006" height="1" fill="#fff"/>
<rect x="386" y="343" width="6" height="1" fill="#fff"/>
<rect x="479" y="343" width="3" height="1" fill="#fff"/>
<rect x="516" y="343" width="6" height="1" fill="#fff"/>
<rect x="593" y="343" width="3" height="1" fill="#fff"/>
<rect x="101" y="344" width="11" height="1" fill="#fff"/>
<rect x="168" y="344" width="3" height="1" fill="#fff"/>
<rect x="386" y="344" width="6" height="1" fill="#fff"/>
<rect x="479" y="344" width="3" height="1" fill="#fff"/>
<rect x="404" y="344" width="4" height="1" fill="#fff"/>
<rect x="516" y="344" width="6" height="1" fill="#fff"/>
<rect x="569" y="344" width="3" height="1" fill="#fff"/>
<rect x="588" y="344" width="8" height="1" fill="#fff"/>
<rect x="593" y="344" width="3" height="1" fill="#fff"/>
<rect x="171" y="345" width="12.800000000000011" height="1" fill="#fff"/>
<rect x="196" y="345" width="2.8000000000000114" height="1" fill="#fff"/>
<rect x="299" y="345" width="1" height="1" fill="#fff"/>
<rect x="300" y="345" width="5" height="1" fill="#fff"/>
<rect x="516" y="345" width="6" height="1" fill="#fff"/>
<rect x="101" y="346" width="11" height="1" fill="#fff"/>
<rect x="305" y="346" width="6" height="1" fill="#fff"/>
<rect x="504" y="346" width="18" height="1" fill="#fff"/>
<rect x="581" y="346" width="15" height="1" fill="#fff"/>
<rect x="593" y="346" width="3" height="1" fill="#fff"/>
<rect x="101" y="347" width="99" height="1" fill="#fff"/>
<rect x="209" y="347" width="11.599999999999994" height="1" fill="#fff"/>
<rect x="200" y="347" width="9" height="1" fill="#fff"/>
<rect x="522" y="347" width="59" height="1" fill="#fff"/>
<rect x="593" y="347" width="3" height="1" fill="#fff"/>
<rect x="101" y="348" width="5" height="1" fill="#fff"/>
<rect x="209" y="348" width="11.599999999999994" height="1" fill="#fff"/>
<rect x="200" y="348" width="9" height="1" fill="#fff"/>
<rect x="435" y="348" width="4" height="1" fill="#fff"/>
<rect x="589" y="348" width="7" height="1" fill="#fff"/>
<rect x="593" y="348" width="3" height="1" fill="#fff"/>
<rect x="102.5" y="349" width="3.0999999999999943" height="1" fill="#fff"/>
<rect x="240" y="349" width="25" height="1" fill="#fff"/>
<rect x="293" y="349" width="3" height="1" fill="#fff"/>
<rect x="494" y="349" width="4" height="1" fill="#fff"/>
<rect x="496" y="349" width="2" height="1" fill="#fff"/>
<rect x="501" y="349" width="3" height="1" fill="#fff"/>
<rect x="557" y="349" width="39" height="1" fill="#fff"/>
<rect x="593" y="349" width="3" height="1" fill="#fff"/>
<rect x="101" y="350" width="99" height="1" fill="#fff"/>
<rect x="575" y="350" width="21" height="1" fill="#fff"/>
<rect x="593" y="350" width="3" height="1" fill="#fff"/>
<rect x="101" y="351" width="24" height="1" fill="#fff"/>
<rect x="200" y="351" width="18" height="1" fill="#fff"/>
<rect x="293" y="351" width="7" height="1" fill="#fff"/>
<rect x="300" y="351" width="2" height="1" fill="#fff"/>
<rect x="593" y="351" width="3" height="1" fill="#fff"/>
<rect x="137" y="352" width="6" height="1" fill="#fff"/>
<rect x="168" y="352" width="3" height="1" fill="#fff"/>
<rect x="522" y="352" width="13" height="1" fill="#fff"/>
<rect x="581" y="352" width="15" height="1" fill="#fff"/>
<rect x="593" y="352" width="3" height="1" fill="#fff"/>
<rect x="175" y="353" width="3" height="1" fill="#fff"/>
<rect x="380" y="353" width="3" height="1" fill="#fff"/>
<rect x="401" y="353" width="7" height="1" fill="#fff"/>
<rect x="538" y="353" width="9" height="1" fill="#fff"/>
<rect x="593" y="353" width="3" height="1" fill="#fff"/>
<rect x="101" y="354" width="14.599999999999994" height="1" fill="#fff"/>
<rect x="243" y="354" width="6" height="1" fill="#fff"/>
<rect x="280" y="354" width="20" height="1" fill="#fff"/>
<rect x="300" y="354" width="2" height="1" fill="#fff"/>
<rect x="593" y="354" width="3" height="1" fill="#fff"/>
<rect x="115.6" y="355" width="6.400000000000006" height="1" fill="#fff"/>
<rect x="476" y="355" width="24" height="1" fill="#fff"/>
<rect x="496" y="355" width="20" height="1" fill="#fff"/>
<rect x="101" y="357" width="14.599999999999994" height="1" fill="#fff"/>
<rect x="488" y="357" width="12" height="1" fill="#fff"/>
<rect x="516" y="357" width="6" height="1" fill="#fff"/>
<rect x="569" y="357" width="6" height="1" fill="#fff"/>
<rect x="593" y="357" width="3" height="1" fill="#fff"/>
<rect x="171" y="358" width="10" height="1" fill="#fff"/>
<rect x="380" y="358" width="3" height="1" fill="#fff"/>
<rect x="401" y="358" width="7" height="1" fill="#fff"/>
<rect x="485" y="358" width="9" height="1" fill="#fff"/>
<rect x="593" y="358" width="3" height="1" fill="#fff"/>
<rect x="101" y="359" width="99" height="1" fill="#fff"/>
<rect x="200" y="359" width="6" height="1" fill="#fff"/>
<rect x="249" y="359" width="25" height="1" fill="#fff"/>
<rect x="289" y="359" width="10" height="1" fill="#fff"/>
<rect x="504" y="359" width="3" height="1" fill="#fff"/>
<rect x="585" y="359" width="6" height="1" fill="#fff"/>
<rect x="593" y="359" width="3" height="1" fill="#fff"/>
<rect x="101" y="360" width="24" height="1" fill="#fff"/>
<rect x="423" y="360" width="16" height="1" fill="#fff"/>
<rect x="516" y="360" width="6" height="1" fill="#fff"/>
<rect x="101" y="361" width="11" height="1" fill="#fff"/>
<rect x="522" y="361" width="13" height="1" fill="#fff"/>
<rect x="575" y="361" width="6" height="1" fill="#fff"/>
<rect x="101" y="362" width="54.599999999999994" height="1" fill="#fff"/>
<rect x="200" y="362" width="3" height="1" fill="#fff"/>
<rect x="516" y="362" width="6" height="1" fill="#fff"/>
<rect x="593" y="362" width="3" height="1" fill="#fff"/>
<rect x="101" y="363" width="54.599999999999994" height="1" fill="#fff"/>
<rect x="193" y="363" width="7" height="1" fill="#fff"/>
<rect x="283" y="363" width="17" height="1" fill="#fff"/>
<rect x="300" y="363" width="17" height="1" fill="#fff"/>
<rect x="339" y="363" width="22" height="1" fill="#fff"/>
<rect x="373" y="363" width="27" height="1" fill="#fff"/>
<rect x="400" y="363" width="1" height="1" fill="#fff"/>
<rect x="593" y="363" width="3" height="1" fill="#fff"/>
<rect x="101" y="364" width="11" height="1" fill="#fff"/>
<rect x="115.6" y="364" width="61.900000000000006" height="1" fill="#fff"/>
<rect x="516" y="364" width="3" height="1" fill="#fff"/>
<rect x="585" y="364" width="6" height="1" fill="#fff"/>
<rect x="101" y="365" width="11" height="1" fill="#fff"/>
<rect x="380" y="365" width="3" height="1" fill="#fff"/>
<rect x="398" y="365" width="2" height="1" fill="#fff"/>
<rect x="400" y="365" width="4" height="1" fill="#fff"/>
<rect x="479" y="365" width="3" height="1" fill="#fff"/>
<rect x="572" y="365" width="13" height="1" fill="#fff"/>
<rect x="593" y="365" width="3" height="1" fill="#fff"/>
<rect x="101" y="367" width="99" height="1" fill="#fff"/>
<rect x="200" y="367" width="86" height="1" fill="#fff"/>
<rect x="510" y="367" width="3" height="1" fill="#fff"/>
<rect x="593" y="367" width="3" height="1" fill="#fff"/>
<rect x="101" y="370" width="93" height="1" fill="#fff"/>
<rect x="203" y="370" width="6" height="1" fill="#fff"/>
<rect x="243" y="370" width="28" height="1" fill="#fff"/>
<rect x="317" y="370" width="10" height="1" fill="#fff"/>
<rect x="593" y="370" width="3" height="1" fill="#fff"/>
<rect x="101" y="372" width="14.599999999999994" height="1" fill="#fff"/>
<rect x="293" y="372" width="7" height="1" fill="#fff"/>
<rect x="300" y="372" width="100" height="1" fill="#fff"/>
<rect x="400" y="372" width="100" height="1" fill="#fff"/>
<rect x="496" y="372" width="100" height="1" fill="#fff"/>
<rect x="101" y="373" width="17.799999999999997" height="1" fill="#fff"/>
<rect x="187.5" y="373" width="2.5" height="1" fill="#fff"/>
<rect x="476" y="373" width="12" height="1" fill="#fff"/>
<rect x="101" y="374" width="14.599999999999994" height="1" fill="#fff"/>
<rect x="300" y="374" width="2" height="1" fill="#fff"/>
<rect x="479" y="374" width="3" height="1" fill="#fff"/>
<rect x="519" y="374" width="3" height="1" fill="#fff"/>
<rect x="575" y="374" width="16" height="1" fill="#fff"/>
<rect x="101" y="375" width="14.599999999999994" height="1" fill="#fff"/>
<rect x="200" y="375" width="100" height="1" fill="#fff"/>
<rect x="300" y="375" width="8" height="1" fill="#fff"/>
<rect x="522" y="375" width="4" height="1" fill="#fff"/>
<rect x="593" y="375" width="3" height="1" fill="#fff"/>
<rect x="101" y="376" width="14.599999999999994" height="1" fill="#fff"/>
<rect x="460" y="376" width="40" height="1" fill="#fff"/>
<rect x="496" y="376" width="100" height="1" fill="#fff"/>
<rect x="593" y="376" width="3" height="1" fill="#fff"/>
<rect x="101" y="377" width="99" height="1" fill="#fff"/>
<rect x="308" y="377" width="3" height="1" fill="#fff"/>
<rect x="317" y="377" width="4" height="1" fill="#fff"/>
<rect x="429" y="377" width="13" height="1" fill="#fff"/>
<rect x="451" y="377" width="9" height="1" fill="#fff"/>
<rect x="593" y="377" width="3" height="1" fill="#fff"/>
<rect x="171" y="379" width="4" height="1" fill="#fff"/>
<rect x="212" y="379" width="3" height="1" fill="#fff"/>
<rect x="321" y="379" width="21" height="1" fill="#fff"/>
<rect x="400" y="379" width="100" height="1" fill="#fff"/>
<rect x="593" y="379" width="3" height="1" fill="#fff"/>
<rect x="175" y="380" width="3" height="1" fill="#fff"/>
<rect x="243" y="380" width="19" height="1" fill="#fff"/>
<rect x="271" y="380" width="9" height="1" fill="#fff"/>
<rect x="101" y="383" width="54.599999999999994" height="1" fill="#fff"/>
<rect x="300" y="383" width="30" height="1" fill="#fff"/>
<rect x="593" y="383" width="3" height="1" fill="#fff"/>
<rect x="296" y="356" width="4" height="1" fill="#fff"/>
<rect x="300" y="356" width="8" height="1" fill="#fff"/>
<rect x="496" y="356" width="20" height="1" fill="#fff"/>
<rect x="516" y="356" width="6" height="1" fill="#fff"/>
<rect x="569" y="356" width="27" height="1" fill="#fff"/>
<rect x="593" y="356" width="3" height="1" fill="#fff"/>
<rect x="206" y="366" width="12" height="1" fill="#fff"/>
<rect x="491" y="366" width="9" height="1" fill="#fff"/>
<rect x="496" y="366" width="14" height="1" fill="#fff"/>
<rect x="513" y="366" width="83" height="1" fill="#fff"/>
<rect x="593" y="366" width="3" height="1" fill="#fff"/>
<rect x="293" y="371" width="7" height="1" fill="#fff"/>
<rect x="588" y="371" width="8" height="1" fill="#fff"/>
<rect x="593" y="371" width="3" height="1" fill="#fff"/>
<rect x="200" y="378" width="100" height="1" fill="#fff"/>
<rect x="342" y="378" width="38" height="1" fill="#fff"/>
<rect x="496" y="378" width="100" height="1" fill="#fff"/>
<rect x="593" y="378" width="3" height="1" fill="#fff"/>
<rect x="268" y="381" width="3" height="1" fill="#fff"/>
<rect x="414" y="381" width="86" height="1" fill="#fff"/>
<rect x="578" y="381" width="18" height="1" fill="#fff"/>
<rect x="593" y="381" width="3" height="1" fill="#fff"/>
<rect x="255" y="384" width="45" height="1" fill="#fff"/>
<rect x="300" y="384" width="30" height="1" fill="#fff"/>
<rect x="370" y="384" width="30" height="1" fill="#fff"/>
<rect x="101" y="384" width="54.599999999999994" height="1" fill="#fff"/>
<rect x="255" y="384" width="45" height="1" fill="#fff"/>
<rect x="300" y="384" width="7.5" height="1" fill="#fff"/>
<rect x="578" y="384" width="18" height="1" fill="#fff"/>
<rect x="358" y="333" width="42" height="1" fill="#fff"/>
<rect x="400" y="333" width="100" height="1" fill="#fff"/>
<rect x="500" y="333" width="96" height="1" fill="#fff"/>
<rect x="593" y="333" width="3" height="1" fill="#fff"/>
<rect x="311" y="369" width="89" height="1" fill="#fff"/>
<rect x="400" y="369" width="100" height="1" fill="#fff"/>
<rect x="496" y="369" width="100" height="1" fill="#fff"/>
<rect x="300" y="382" width="30" height="1" fill="#fff"/>
<rect x="400" y="382" width="100" height="1" fill="#fff"/>
<rect x="496" y="382" width="100" height="1" fill="#fff"/>
<rect x="593" y="382" width="3" height="1" fill="#fff"/>
<rect x="192.5" y="385" width="3.5" height="1" fill="#fff"/>
<rect x="300" y="385" width="8" height="1" fill="#fff"/>
<rect x="400" y="385" width="8" height="1" fill="#fff"/>
<rect x="519" y="385" width="13" height="1" fill="#fff"/>
<rect x="581" y="385" width="15" height="1" fill="#fff"/>
<rect x="593" y="385" width="3" height="1" fill="#fff"/>
<rect x="101" y="386" width="99" height="1" fill="#fff"/>
<rect x="200" y="386" width="100" height="1" fill="#fff"/>
<rect x="347.5" y="386" width="52.5" height="1" fill="#fff"/>
<rect x="585" y="386" width="11" height="1" fill="#fff"/>
<rect x="593" y="386" width="3" height="1" fill="#fff"/>
<rect x="101" y="388" width="21" height="1" fill="#fff"/>
<rect x="300" y="388" width="100" height="1" fill="#fff"/>
<rect x="400" y="388" width="100" height="1" fill="#fff"/>
<rect x="496" y="388" width="100" height="1" fill="#fff"/>
<rect x="593" y="388" width="3" height="1" fill="#fff"/>
<rect x="101" y="389" width="21" height="1" fill="#fff"/>
<rect x="200" y="389" width="12" height="1" fill="#fff"/>
<rect x="305" y="389" width="11" height="1" fill="#fff"/>
<rect x="345" y="389" width="16" height="1" fill="#fff"/>
<rect x="388.7" y="389" width="3.8000000000000114" height="1" fill="#fff"/>
<rect x="401" y="389" width="13" height="1" fill="#fff"/>
<rect x="479" y="389" width="12" height="1" fill="#fff"/>
<rect x="585" y="389" width="11" height="1" fill="#fff"/>
<rect x="101" y="390" width="24" height="1" fill="#fff"/>
<rect x="200" y="390" width="24" height="1" fill="#fff"/>
<rect x="286" y="390" width="10" height="1" fill="#fff"/>
<rect x="300" y="390" width="100" height="1" fill="#fff"/>
<rect x="566" y="390" width="30" height="1" fill="#fff"/>
<rect x="593" y="390" width="3" height="1" fill="#fff"/>
<rect x="101" y="391" width="24" height="1" fill="#fff"/>
<rect x="300" y="391" width="86" height="1" fill="#fff"/>
<rect x="498" y="391" width="2" height="1" fill="#fff"/>
<rect x="498" y="391" width="98" height="1" fill="#fff"/>
<rect x="101" y="392" width="24" height="1" fill="#fff"/>
<rect x="170.6" y="392" width="7.400000000000006" height="1" fill="#fff"/>
<rect x="286" y="392" width="14" height="1" fill="#fff"/>
<rect x="300" y="392" width="2" height="1" fill="#fff"/>
<rect x="348" y="392" width="52" height="1" fill="#fff"/>
<rect x="400" y="392" width="100" height="1" fill="#fff"/>
<rect x="496" y="392" width="100" height="1" fill="#fff"/>
<rect x="593" y="392" width="3" height="1" fill="#fff"/>
<rect x="101" y="393" width="24" height="1" fill="#fff"/>
<rect x="200" y="393" width="100" height="1" fill="#fff"/>
<rect x="300" y="393" width="100" height="1" fill="#fff"/>
<rect x="400" y="393" width="17" height="1" fill="#fff"/>
<rect x="593" y="393" width="3" height="1" fill="#fff"/>
<rect x="101" y="394" width="17.75" height="1" fill="#fff"/>
<rect x="300" y="394" width="100" height="1" fill="#fff"/>
<rect x="400" y="394" width="100" height="1" fill="#fff"/>
<rect x="496" y="394" width="100" height="1" fill="#fff"/>
<rect x="162.5" y="395" width="2.5" height="1" fill="#fff"/>
<rect x="168" y="395" width="3" height="1" fill="#fff"/>
<rect x="221" y="395" width="3" height="1" fill="#fff"/>
<rect x="292.5" y="395" width="7.5" height="1" fill="#fff"/>
<rect x="300" y="395" width="5" height="1" fill="#fff"/>
<rect x="348" y="395" width="4" height="1" fill="#fff"/>
<rect x="488" y="395" width="12" height="1" fill="#fff"/>
<rect x="496" y="395" width="100" height="1" fill="#fff"/>
<rect x="593" y="395" width="3" height="1" fill="#fff"/>
<rect x="101" y="396" width="54.599999999999994" height="1" fill="#fff"/>
<rect x="230" y="396" width="19" height="1" fill="#fff"/>
<rect x="292.5" y="396" width="7.5" height="1" fill="#fff"/>
<rect x="300" y="396" width="100" height="1" fill="#fff"/>
<rect x="400" y="396" width="100" height="1" fill="#fff"/>
<rect x="496" y="396" width="100" height="1" fill="#fff"/>
<rect x="101" y="397" width="54.599999999999994" height="1" fill="#fff"/>
<rect x="342" y="397" width="58" height="1" fill="#fff"/>
<rect x="400" y="397" width="100" height="1" fill="#fff"/>
<rect x="496" y="397" width="100" height="1" fill="#fff"/>
<rect x="593" y="397" width="3" height="1" fill="#fff"/>
<rect x="168" y="409" width="3" height="1" fill="#fff"/>
<rect x="510" y="409" width="3" height="1" fill="#fff"/>
<rect x="594" y="409" width="2" height="1" fill="#fff"/>
<rect x="168" y="419" width="3" height="1" fill="#fff"/>
<rect x="376" y="419" width="4" height="1" fill="#fff"/>
<rect x="442" y="419" width="3" height="1" fill="#fff"/>
<rect x="491" y="419" width="3" height="1" fill="#fff"/>
<rect x="516" y="419" width="6" height="1" fill="#fff"/>
<rect x="572" y="419" width="19" height="1" fill="#fff"/>
<rect x="101" y="420" width="11" height="1" fill="#fff"/>
<rect x="171" y="420" width="4" height="1" fill="#fff"/>
<rect x="392" y="420" width="3" height="1" fill="#fff"/>
<rect x="522" y="420" width="4" height="1" fill="#fff"/>
<rect x="591" y="420" width="5" height="1" fill="#fff"/>
<rect x="109.4" y="421" width="2.5999999999999943" height="1" fill="#fff"/>
<rect x="171" y="421" width="4" height="1" fill="#fff"/>
<rect x="594" y="421" width="2" height="1" fill="#fff"/>
<rect x="593" y="421" width="3" height="1" fill="#fff"/>
<rect x="109.4" y="422" width="2.5999999999999943" height="1" fill="#fff"/>
<rect x="171" y="422" width="4" height="1" fill="#fff"/>
<rect x="376" y="422" width="4" height="1" fill="#fff"/>
<rect x="516" y="422" width="10" height="1" fill="#fff"/>
<rect x="581" y="422" width="15" height="1" fill="#fff"/>
<rect x="101" y="424" width="99" height="1" fill="#fff"/>
<rect x="200" y="424" width="33.75" height="1" fill="#fff"/>
<rect x="103" y="426" width="2.5999999999999943" height="1" fill="#fff"/>
<rect x="442" y="426" width="3" height="1" fill="#fff"/>
<rect x="593" y="426" width="3" height="1" fill="#fff"/>
<rect x="171" y="427" width="4" height="1" fill="#fff"/>
<rect x="386" y="427" width="3" height="1" fill="#fff"/>
<rect x="435" y="427" width="4" height="1" fill="#fff"/>
<rect x="479" y="427" width="3" height="1" fill="#fff"/>
<rect x="516" y="427" width="6" height="1" fill="#fff"/>
<rect x="591" y="427" width="3" height="1" fill="#fff"/>
<rect x="593" y="427" width="3" height="1" fill="#fff"/>
<rect x="101" y="428" width="32.80000000000001" height="1" fill="#fff"/>
<rect x="392" y="428" width="3" height="1" fill="#fff"/>
<rect x="594" y="428" width="2" height="1" fill="#fff"/>
<rect x="593" y="428" width="3" height="1" fill="#fff"/>
<rect x="128" y="429" width="2.5999999999999943" height="1" fill="#fff"/>
<rect x="234" y="429" width="3" height="1" fill="#fff"/>
<rect x="442" y="429" width="3" height="1" fill="#fff"/>
<rect x="585" y="429" width="9" height="1" fill="#fff"/>
<rect x="125" y="430" width="2.5" height="1" fill="#fff"/>
<rect x="442" y="430" width="3" height="1" fill="#fff"/>
<rect x="594" y="430" width="2" height="1" fill="#fff"/>
<rect x="171" y="431" width="4" height="1" fill="#fff"/>
<rect x="296" y="431" width="4" height="1" fill="#fff"/>
<rect x="300" y="431" width="5" height="1" fill="#fff"/>
<rect x="496" y="431" width="100" height="1" fill="#fff"/>
<rect x="147" y="433" width="6" height="1" fill="#fff"/>
<rect x="209" y="433" width="3" height="1" fill="#fff"/>
<rect x="451" y="433" width="49" height="1" fill="#fff"/>
<rect x="496" y="433" width="100" height="1" fill="#fff"/>
<rect x="593" y="433" width="3" height="1" fill="#fff"/>
<rect x="147" y="434" width="6" height="1" fill="#fff"/>
<rect x="496" y="434" width="100" height="1" fill="#fff"/>
<rect x="593" y="434" width="3" height="1" fill="#fff"/>
<rect x="101" y="435" width="99" height="1" fill="#fff"/>
<rect x="200" y="435" width="100" height="1" fill="#fff"/>
<rect x="594" y="435" width="2" height="1" fill="#fff"/>
<rect x="103" y="439" width="9" height="1" fill="#fff"/>
<rect x="165" y="439" width="3" height="1" fill="#fff"/>
<rect x="190" y="439" width="3" height="1" fill="#fff"/>
<rect x="209" y="439" width="3" height="1" fill="#fff"/>
<rect x="317" y="439" width="4" height="1" fill="#fff"/>
<rect x="386" y="439" width="14" height="1" fill="#fff"/>
<rect x="400" y="439" width="100" height="1" fill="#fff"/>
<rect x="496" y="439" width="100" height="1" fill="#fff"/>
<rect x="593" y="439" width="3" height="1" fill="#fff"/>
<rect x="101" y="441" width="21" height="1" fill="#fff"/>
<rect x="317" y="441" width="83" height="1" fill="#fff"/>
<rect x="400" y="441" width="100" height="1" fill="#fff"/>
<rect x="496" y="441" width="100" height="1" fill="#fff"/>
<rect x="165" y="442" width="3" height="1" fill="#fff"/>
<rect x="190" y="442" width="3" height="1" fill="#fff"/>
<rect x="215" y="442" width="3" height="1" fill="#fff"/>
<rect x="293" y="442" width="7" height="1" fill="#fff"/>
<rect x="300" y="442" width="100" height="1" fill="#fff"/>
<rect x="400" y="442" width="100" height="1" fill="#fff"/>
<rect x="496" y="442" width="100" height="1" fill="#fff"/>
<rect x="593" y="442" width="3" height="1" fill="#fff"/>
<rect x="171" y="443" width="4" height="1" fill="#fff"/>
<rect x="193" y="443" width="3" height="1" fill="#fff"/>
<rect x="215" y="443" width="12" height="1" fill="#fff"/>
<rect x="255" y="443" width="45" height="1" fill="#fff"/>
<rect x="300" y="443" width="100" height="1" fill="#fff"/>
<rect x="400" y="443" width="100" height="1" fill="#fff"/>
<rect x="496" y="443" width="100" height="1" fill="#fff"/>
<rect x="101" y="444" width="36" height="1" fill="#fff"/>
<rect x="212" y="444" width="3" height="1" fill="#fff"/>
<rect x="296" y="444" width="4" height="1" fill="#fff"/>
<rect x="300" y="444" width="5" height="1" fill="#fff"/>
<rect x="348" y="444" width="4" height="1" fill="#fff"/>
<rect x="373" y="444" width="27" height="1" fill="#fff"/>
<rect x="400" y="444" width="100" height="1" fill="#fff"/>
<rect x="496" y="444" width="100" height="1" fill="#fff"/>
<rect x="234" y="401" width="3" height="1" fill="#fff"/>
<rect x="594" y="401" width="2" height="1" fill="#fff"/>
<rect x="215" y="403" width="3" height="1" fill="#fff"/>
<rect x="234" y="406" width="3" height="1" fill="#fff"/>
<rect x="237" y="407" width="3" height="1" fill="#fff"/>
<rect x="215" y="407" width="3" height="1" fill="#fff"/>
<rect x="249" y="407" width="8.75" height="1" fill="#fff"/>
<rect x="594" y="407" width="2" height="1" fill="#fff"/>
<rect x="240" y="410" width="3" height="1" fill="#fff"/>
<rect x="293" y="410" width="7" height="1" fill="#fff"/>
<rect x="300" y="410" width="5" height="1" fill="#fff"/>
<rect x="588" y="410" width="3" height="1" fill="#fff"/>
<rect x="593" y="410" width="3" height="1" fill="#fff"/>
<rect x="209" y="411" width="3" height="1" fill="#fff"/>
<rect x="234" y="414" width="3" height="1" fill="#fff"/>
<rect x="203" y="416" width="3" height="1" fill="#fff"/>
<rect x="585" y="416" width="9" height="1" fill="#fff"/>
<rect x="593" y="416" width="3" height="1" fill="#fff"/>
<rect x="209" y="436" width="3" height="1" fill="#fff"/>
<rect x="308" y="436" width="6" height="1" fill="#fff"/>
<rect x="324" y="436" width="24" height="1" fill="#fff"/>
<rect x="376" y="436" width="24" height="1" fill="#fff"/>
<rect x="400" y="436" width="35" height="1" fill="#fff"/>
<rect x="588" y="436" width="8" height="1" fill="#fff"/>
<rect x="593" y="436" width="3" height="1" fill="#fff"/>
<rect x="293" y="438" width="7" height="1" fill="#fff"/>
<rect x="400" y="438" width="100" height="1" fill="#fff"/>
<rect x="496" y="438" width="100" height="1" fill="#fff"/>
<rect x="293" y="440" width="7" height="1" fill="#fff"/>
<rect x="300" y="440" width="100" height="1" fill="#fff"/>
<rect x="400" y="440" width="100" height="1" fill="#fff"/>
<rect x="496" y="440" width="100" height="1" fill="#fff"/>
<rect x="347.5" y="387" width="52.5" height="1" fill="#fff"/>
<rect x="400" y="387" width="100" height="1" fill="#fff"/>
<rect x="496" y="387" width="100" height="1" fill="#fff"/>
<rect x="593" y="387" width="3" height="1" fill="#fff"/>
<rect x="300" y="437" width="100" height="1" fill="#fff"/>
<rect x="400" y="437" width="100" height="1" fill="#fff"/>
<rect x="522" y="437" width="4" height="1" fill="#fff"/>
<rect x="543.5" y="437" width="52.5" height="1" fill="#fff"/>
<rect x="435" y="400" width="4" height="1" fill="#fff"/>
<rect x="593" y="400" width="3" height="1" fill="#fff"/>
<rect x="442" y="402" width="3" height="1" fill="#fff"/>
<rect x="594" y="402" width="2" height="1" fill="#fff"/>
<rect x="494" y="417" width="4" height="1" fill="#fff"/>
<rect x="496" y="417" width="2" height="1" fill="#fff"/>
<rect x="435" y="425" width="4" height="1" fill="#fff"/>
<rect x="581" y="425" width="13" height="1" fill="#fff"/>
<rect x="460" y="432" width="40" height="1" fill="#fff"/>
<rect x="496" y="432" width="100" height="1" fill="#fff"/>
<rect x="594" y="398" width="2" height="1" fill="#fff"/>
<rect x="594" y="399" width="2" height="1" fill="#fff"/>
<rect x="593" y="399" width="3" height="1" fill="#fff"/>
<rect x="585" y="404" width="3" height="1" fill="#fff"/>
<rect x="594" y="405" width="2" height="1" fill="#fff"/>
<rect x="593" y="405" width="3" height="1" fill="#fff"/>
<rect x="594" y="412" width="2" height="1" fill="#fff"/>
<rect x="593" y="412" width="3" height="1" fill="#fff"/>
<rect x="522" y="415" width="4" height="1" fill="#fff"/>
<rect x="594" y="418" width="2" height="1" fill="#fff"/>
<rect x="593" y="418" width="3" height="1" fill="#fff"/>
<rect x="585" y="423" width="9" height="1" fill="#fff"/>
<rect x="104.7" y="158" width="20.099999999999994" height="1" fill="#fff"/>
<rect x="137" y="158" width="12.599999999999994" height="1" fill="#fff"/>
<rect x="209" y="162" width="3" height="1" fill="#fff"/>
<rect x="588" y="162" width="3" height="1" fill="#fff"/>
<rect x="593" y="162" width="3" height="1" fill="#fff"/>
<rect x="193" y="163" width="3" height="1" fill="#fff"/>
<rect x="101" y="164" width="11" height="1" fill="#fff"/>
<rect x="593" y="164" width="3" height="1" fill="#fff"/>
<rect x="212" y="174" width="3" height="1" fill="#fff"/>
<rect x="588" y="174" width="6" height="1" fill="#fff"/>
<rect x="101" y="175" width="18" height="1" fill="#fff"/>
<rect x="585" y="175" width="9" height="1" fill="#fff"/>
<rect x="119" y="176" width="36.80000000000001" height="1" fill="#fff"/>
<rect x="441.8" y="176" width="3.1999999999999886" height="1" fill="#fff"/>
<rect x="209" y="177" width="3" height="1" fill="#fff"/>
<rect x="590" y="177" width="4" height="1" fill="#fff"/>
<rect x="593" y="177" width="3" height="1" fill="#fff"/>
<rect x="212" y="179" width="3" height="1" fill="#fff"/>
<rect x="209" y="183" width="3" height="1" fill="#fff"/>
<rect x="588" y="183" width="3" height="1" fill="#fff"/>
<rect x="593" y="183" width="3" height="1" fill="#fff"/>
<rect x="175" y="188" width="6" height="1" fill="#fff"/>
<rect x="101" y="189" width="23.799999999999997" height="1" fill="#fff"/>
<rect x="585" y="189" width="9" height="1" fill="#fff"/>
<rect x="209" y="196" width="3" height="1" fill="#fff"/>
<rect x="212" y="199" width="3" height="1" fill="#fff"/>
<rect x="181" y="208" width="3" height="1" fill="#fff"/>
<rect x="541" y="208" width="55" height="1" fill="#fff"/>
<rect x="593" y="208" width="3" height="1" fill="#fff"/>
<rect x="175" y="210" width="3" height="1" fill="#fff"/>
<rect x="435" y="210" width="3.6999999999999886" height="1" fill="#fff"/>
<rect x="593" y="210" width="3" height="1" fill="#fff"/>
<rect x="209" y="211" width="3" height="1" fill="#fff"/>
<rect x="585" y="211" width="5" height="1" fill="#fff"/>
<rect x="593" y="211" width="3" height="1" fill="#fff"/>
<rect x="215" y="213" width="3" height="1" fill="#fff"/>
<rect x="585" y="213" width="5" height="1" fill="#fff"/>
<rect x="101" y="215" width="18" height="1" fill="#fff"/>
<rect x="593" y="215" width="3" height="1" fill="#fff"/>
<rect x="101" y="216" width="2" height="1" fill="#fff"/>
<rect x="234" y="216" width="2.6999999999999886" height="1" fill="#fff"/>
<rect x="286" y="216" width="10" height="1" fill="#fff"/>
<rect x="593" y="216" width="3" height="1" fill="#fff"/>
<rect x="171" y="218" width="4" height="1" fill="#fff"/>
<rect x="215" y="221" width="3" height="1" fill="#fff"/>
<rect x="451" y="221" width="9" height="1" fill="#fff"/>
<rect x="593" y="221" width="3" height="1" fill="#fff"/>
<rect x="175" y="222" width="3" height="1" fill="#fff"/>
<rect x="429" y="222" width="3" height="1" fill="#fff"/>
<rect x="175" y="222" width="2.5" height="1" fill="#fff"/>
<rect x="293" y="151" width="8.5" height="1" fill="#fff"/>
<rect x="252" y="152" width="37" height="1" fill="#fff"/>
<rect x="252" y="152" width="14" height="1" fill="#fff"/>
<rect x="293" y="155" width="11.600000000000023" height="1" fill="#fff"/>
<rect x="593" y="155" width="3" height="1" fill="#fff"/>
<rect x="234" y="156" width="2.6999999999999886" height="1" fill="#fff"/>
<rect x="235" y="156" width="2" height="1" fill="#fff"/>
<rect x="593" y="156" width="3" height="1" fill="#fff"/>
<rect x="289" y="165" width="15.600000000000023" height="1" fill="#fff"/>
<rect x="227" y="166" width="3" height="1" fill="#fff"/>
<rect x="234" y="170" width="2.6999999999999886" height="1" fill="#fff"/>
<rect x="566" y="170" width="30" height="1" fill="#fff"/>
<rect x="593" y="170" width="3" height="1" fill="#fff"/>
<rect x="293" y="171" width="6" height="1" fill="#fff"/>
<rect x="588" y="171" width="6" height="1" fill="#fff"/>
<rect x="593" y="171" width="3" height="1" fill="#fff"/>
<rect x="255" y="172" width="40" height="1" fill="#fff"/>
<rect x="590" y="172" width="4" height="1" fill="#fff"/>
<rect x="593" y="172" width="3" height="1" fill="#fff"/>
<rect x="234" y="178" width="2.6999999999999886" height="1" fill="#fff"/>
<rect x="593" y="178" width="3" height="1" fill="#fff"/>
<rect x="293" y="182" width="8.5" height="1" fill="#fff"/>
<rect x="293" y="186" width="8.5" height="1" fill="#fff"/>
<rect x="593" y="186" width="3" height="1" fill="#fff"/>
<rect x="307.7" y="187" width="83.80000000000001" height="1" fill="#fff"/>
<rect x="590" y="187" width="4" height="1" fill="#fff"/>
<rect x="293" y="190" width="11.600000000000023" height="1" fill="#fff"/>
<rect x="593" y="190" width="3" height="1" fill="#fff"/>
<rect x="293" y="191" width="6" height="1" fill="#fff"/>
<rect x="321" y="191" width="24" height="1" fill="#fff"/>
<rect x="376" y="191" width="10" height="1" fill="#fff"/>
<rect x="423" y="191" width="6" height="1" fill="#fff"/>
<rect x="588" y="191" width="6" height="1" fill="#fff"/>
<rect x="593" y="191" width="3" height="1" fill="#fff"/>
<rect x="293" y="193" width="8.5" height="1" fill="#fff"/>
<rect x="585" y="193" width="9" height="1" fill="#fff"/>
<rect x="255" y="194" width="59" height="1" fill="#fff"/>
<rect x="593" y="194" width="3" height="1" fill="#fff"/>
<rect x="227" y="200" width="3" height="1" fill="#fff"/>
<rect x="234" y="201" width="2.6999999999999886" height="1" fill="#fff"/>
<rect x="532" y="201" width="55" height="1" fill="#fff"/>
<rect x="227" y="203" width="3" height="1" fill="#fff"/>
<rect x="593" y="203" width="3" height="1" fill="#fff"/>
<rect x="227" y="204" width="3" height="1" fill="#fff"/>
<rect x="593" y="204" width="3" height="1" fill="#fff"/>
<rect x="239.5" y="207" width="3.5" height="1" fill="#fff"/>
<rect x="379.8" y="207" width="3.1999999999999886" height="1" fill="#fff"/>
<rect x="593" y="207" width="3" height="1" fill="#fff"/>
<rect x="262" y="220" width="34" height="1" fill="#fff"/>
<rect x="593" y="220" width="3" height="1" fill="#fff"/>
<rect x="234" y="223" width="2.6999999999999886" height="1" fill="#fff"/>
<rect x="376" y="223" width="10" height="1" fill="#fff"/>
<rect x="441.8" y="167" width="3.1999999999999886" height="1" fill="#fff"/>
<rect x="379.8" y="205" width="6.199999999999989" height="1" fill="#fff"/>
<rect x="441.8" y="206" width="3.1999999999999886" height="1" fill="#fff"/>
<rect x="593" y="206" width="3" height="1" fill="#fff"/>
<rect x="441.8" y="209" width="3.1999999999999886" height="1" fill="#fff"/>
<rect x="593" y="209" width="3" height="1" fill="#fff"/>
<rect x="441.8" y="214" width="3.1999999999999886" height="1" fill="#fff"/>
<rect x="593" y="214" width="3" height="1" fill="#fff"/>
<rect x="585" y="173" width="9" height="1" fill="#fff"/>
<rect x="588" y="195" width="6" height="1" fill="#fff"/>
<rect x="593" y="195" width="3" height="1" fill="#fff"/>
<rect x="587" y="217" width="3" height="1" fill="#fff"/>
<rect x="557" y="225" width="30" height="1" fill="#fff"/>
<rect x="557" y="225" width="33" height="1" fill="#fff"/>
<rect x="206" y="229" width="3" height="1" fill="#fff"/>
<rect x="593" y="229" width="3" height="1" fill="#fff"/>
<rect x="175" y="230" width="2.5" height="1" fill="#fff"/>
<rect x="435" y="230" width="3.6999999999999886" height="1" fill="#fff"/>
<rect x="593" y="230" width="3" height="1" fill="#fff"/>
<rect x="101" y="231" width="15" height="1" fill="#fff"/>
<rect x="522" y="231" width="3.5" height="1" fill="#fff"/>
<rect x="593" y="231" width="3" height="1" fill="#fff"/>
<rect x="101" y="232" width="20.700000000000003" height="1" fill="#fff"/>
<rect x="593" y="232" width="3" height="1" fill="#fff"/>
<rect x="175" y="234" width="2.5" height="1" fill="#fff"/>
<rect x="593" y="234" width="3" height="1" fill="#fff"/>
<rect x="209" y="235" width="3" height="1" fill="#fff"/>
<rect x="212" y="239" width="3" height="1" fill="#fff"/>
<rect x="593" y="239" width="3" height="1" fill="#fff"/>
<rect x="101" y="241" width="2" height="1" fill="#fff"/>
<rect x="101" y="243" width="15" height="1" fill="#fff"/>
<rect x="510" y="243" width="3" height="1" fill="#fff"/>
<rect x="101" y="244" width="15" height="1" fill="#fff"/>
<rect x="593" y="244" width="3" height="1" fill="#fff"/>
<rect x="116" y="245" width="80" height="1" fill="#fff"/>
<rect x="373" y="245" width="52.5" height="1" fill="#fff"/>
<rect x="593" y="245" width="3" height="1" fill="#fff"/>
<rect x="286" y="237" width="7" height="1" fill="#fff"/>
<rect x="593" y="237" width="3" height="1" fill="#fff"/>
<rect x="271" y="240" width="90" height="1" fill="#fff"/>
<rect x="268" y="242" width="87" height="1" fill="#fff"/>
<rect x="593" y="242" width="3" height="1" fill="#fff"/>
<rect x="441.8" y="238" width="3.1999999999999886" height="1" fill="#fff"/>
<rect x="593" y="238" width="3" height="1" fill="#fff"/>
<rect x="581" y="226" width="9" height="1" fill="#fff"/>
<rect x="504" y="227" width="3" height="1" fill="#fff"/>
<rect x="581" y="227" width="9" height="1" fill="#fff"/>
<rect x="240" y="75" width="3" height="1" fill="#fff"/>
<rect x="593" y="75" width="3" height="1" fill="#fff"/>
<rect x="106" y="139" width="3" height="1" fill="#fff"/>
<rect x="386" y="139" width="3" height="1" fill="#fff"/>
<rect x="593" y="139" width="3" height="1" fill="#fff"/>
<rect x="235" y="142" width="2" height="1" fill="#fff"/>
<rect x="235" y="147" width="2" height="1" fill="#fff"/>
<rect x="249" y="148" width="9" height="1" fill="#fff"/>
<rect x="215" y="149" width="8" height="1" fill="#fff"/>
<rect x="429" y="82" width="3" height="1" fill="#fff"/>
<rect x="386" y="86" width="3" height="1" fill="#fff"/>
<rect x="593" y="86" width="3" height="1" fill="#fff"/>
<rect x="442" y="118" width="3" height="1" fill="#fff"/>
<rect x="383.7" y="118" width="5.300000000000011" height="1" fill="#fff"/>
<rect x="373" y="126" width="10" height="1" fill="#fff"/>
<rect x="593" y="126" width="3" height="1" fill="#fff"/>
<rect x="398" y="125" width="3" height="1" fill="#fff"/>
<rect x="426" y="124" width="3" height="1" fill="#fff"/>
<rect x="585" y="124" width="11" height="1" fill="#fff"/>
<rect x="593" y="124" width="3" height="1" fill="#fff"/>
<rect x="293" y="131" width="12" height="1" fill="#fff"/>
<rect x="293" y="133" width="8.699999999999989" height="1" fill="#fff"/>
<rect x="593" y="133" width="3" height="1" fill="#fff"/>
<rect x="451" y="88" width="31" height="1" fill="#fff"/>
<rect x="454" y="92" width="3" height="1" fill="#fff"/>
<rect x="443" y="103" width="2" height="1" fill="#fff"/>
<rect x="454" y="104" width="3" height="1" fill="#fff"/>
<rect x="442" y="104" width="3" height="1" fill="#fff"/>
<rect x="454" y="110" width="3" height="1" fill="#fff"/>
<rect x="442" y="117" width="3" height="1" fill="#fff"/>
<rect x="593" y="117" width="3" height="1" fill="#fff"/>
<rect x="442" y="119" width="3" height="1" fill="#fff"/>
<rect x="575" y="119" width="21" height="1" fill="#fff"/>
<rect x="442" y="135" width="3" height="1" fill="#fff"/>
<rect x="576" y="122" width="20" height="1" fill="#fff"/>
<rect x="588" y="129" width="6" height="1" fill="#fff"/>
<rect x="588" y="137" width="8" height="1" fill="#fff"/>
<rect x="593" y="137" width="3" height="1" fill="#fff"/>
<rect x="581" y="144" width="15" height="1" fill="#fff"/>
<rect x="591" y="74" width="3" height="1" fill="#fff"/>
<rect x="593" y="74" width="3" height="1" fill="#fff"/>
<rect x="593" y="61" width="3" height="1" fill="#fff"/>
<rect x="593" y="68" width="3" height="1" fill="#fff"/>
<rect x="593" y="69" width="3" height="1" fill="#fff"/>
<rect x="593" y="77" width="3" height="1" fill="#fff"/>
<rect x="593" y="80" width="3" height="1" fill="#fff"/>
<rect x="593" y="83" width="3" height="1" fill="#fff"/>
<rect x="593" y="91" width="3" height="1" fill="#fff"/>
<rect x="593" y="98" width="3" height="1" fill="#fff"/>
<rect x="236" y="98" width="2.5" height="1" fill="#fff"/>
<rect x="593" y="100" width="3" height="1" fill="#fff"/>
<rect x="593" y="109" width="3" height="1" fill="#fff"/>
<rect x="593" y="116" width="3" height="1" fill="#fff"/>
<rect x="593" y="123" width="3" height="1" fill="#fff"/>
<rect x="593" y="132" width="3" height="1" fill="#fff"/>
<rect x="593" y="138" width="3" height="1" fill="#fff"/>
<rect x="593" y="140" width="3" height="1" fill="#fff"/>
<rect x="593" y="141" width="3" height="1" fill="#fff"/>
<rect x="593" y="153" width="3" height="1" fill="#fff"/>
<rect x="593" y="159" width="3" height="1" fill="#fff"/>
<rect x="593" y="161" width="3" height="1" fill="#fff"/>
<rect x="593" y="169" width="3" height="1" fill="#fff"/>
<rect x="593" y="180" width="3" height="1" fill="#fff"/>
<rect x="593" y="181" width="3" height="1" fill="#fff"/>
<rect x="593" y="198" width="3" height="1" fill="#fff"/>
<rect x="593" y="202" width="3" height="1" fill="#fff"/>
<rect x="593" y="224" width="3" height="1" fill="#fff"/>
<rect x="593" y="236" width="3" height="1" fill="#fff"/>
<rect x="593" y="248" width="3" height="1" fill="#fff"/>
<rect x="593" y="260" width="3" height="1" fill="#fff"/>
<rect x="593" y="262" width="3" height="1" fill="#fff"/>
<rect x="593" y="267" width="3" height="1" fill="#fff"/>
<rect x="593" y="278" width="3" height="1" fill="#fff"/>
<rect x="593" y="408" width="3" height="1" fill="#fff"/>
<rect x="101" y="290" width="188" height="1" fill="#fff"/>
<rect x="442" y="102" width="3" height="1" fill="#fff"/>
<rect x="442" y="105" width="3" height="1" fill="#fff"/>
</g>
<polyline clip-path="url(#ax)" points="100.0,163.8 103.1,155.4 106.2,156.1 109.3,158.2 112.4,147.5 115.5,132.3 118.6,121.5 121.7,116.2 124.8,109.2 127.9,105.3 131.0,104.0 134.1,103.6 137.2,109.7 140.3,109.3 143.4,101.5 146.5,101.8 149.6,101.5 152.7,99.0 155.8,96.0 158.9,95.7 162.0,98.5 165.1,94.8 168.2,114.8 171.3,112.0 174.4,105.0 177.5,93.5 180.6,94.3 183.7,92.5 186.8,91.8 189.9,93.2 193.0,93.5 196.1,91.0 199.2,90.5 202.3,90.3 205.4,90.0 208.5,107.0 211.6,96.5 214.7,94.8 217.8,88.0 220.9,87.8 224.0,84.8 227.1,88.0 230.2,88.8 233.3,101.8 236.4,88.2 239.5,92.0 242.6,91.3 245.7,91.0 248.8,92.5 251.9,93.5 255.0,94.0 258.1,93.2 261.2,90.5 264.3,89.7 267.4,89.8 270.5,88.5 273.6,87.0 276.7,87.5 279.8,85.5 282.9,90.0 286.0,93.0 289.1,90.5 292.2,102.0 295.3,105.0 298.4,102.5 301.5,98.0 304.6,89.0 307.7,88.8 310.8,85.8 313.9,85.1 317.0,84.5 320.1,84.0 323.2,85.0 326.3,83.8 329.4,83.3 332.5,83.0 335.6,82.5 338.7,81.8 341.8,81.7 344.9,81.3 348.0,83.0 351.1,82.5 354.2,82.8 357.3,82.2 360.4,82.0 363.5,83.8 366.6,82.0 369.7,82.5 372.8,87.0 375.9,96.0 379.0,99.0 382.1,91.0 385.2,100.5 388.3,93.0 391.4,87.0 394.5,83.8 397.6,84.5 400.7,87.5 403.8,96.5 406.9,86.5 410.0,85.5 413.1,84.8 416.2,84.8 419.3,85.2 422.4,86.0 425.5,85.5 428.6,88.0 431.7,88.8 434.8,93.0 437.9,86.0 441.0,105.5 444.1,84.0 447.2,85.5 450.3,85.8 453.4,86.5 456.5,85.8 459.6,86.5 462.7,85.8 465.8,86.5 468.9,87.8 472.0,88.0 475.1,91.0 478.2,107.0 481.3,93.5 484.4,94.0 487.5,96.5 490.6,102.5 493.7,100.0 496.8,98.2 499.9,99.0 503.0,101.0 506.1,102.0 509.2,114.0 512.3,105.5 515.4,129.0 518.5,131.2 521.6,118.0 524.7,105.5 527.8,107.8 530.9,107.2 534.0,106.7 537.1,107.5 540.2,109.0 543.3,108.7 546.4,109.5 549.5,111.2 552.6,112.2 555.7,113.3 558.8,114.6 561.9,115.4 565.0,118.0 568.1,121.1 571.2,126.4 574.3,137.2 577.4,145.6 580.5,158.8 583.6,174.3 586.7,203.1 589.8,200.7 592.9,374.8" fill="none" stroke="#000" stroke-width="2.08" stroke-linejoin="round" stroke-linecap="square"/>
<rect x="100.5" y="60.5" width="496" height="385" fill="none" stroke="#000" stroke-width="1"/>
<line x1="100.5" y1="445" x2="100.5" y2="450.36" stroke="#000" stroke-width="1"/><text x="100.6" y="466.08" text-anchor="middle">0</text><line x1="162.5" y1="445" x2="162.5" y2="450.36" stroke="#000" stroke-width="1"/><text x="162.6" y="466.08" text-anchor="middle">20</text><line x1="224.5" y1="445" x2="224.5" y2="450.36" stroke="#000" stroke-width="1"/><text x="224.6" y="466.08" text-anchor="middle">40</text><line x1="286.5" y1="445" x2="286.5" y2="450.36" stroke="#000" stroke-width="1"/><text x="286.6" y="466.08" text-anchor="middle">60</text><line x1="348.5" y1="445" x2="348.5" y2="450.36" stroke="#000" stroke-width="1"/><text x="348.6" y="466.08" text-anchor="middle">80</text><line x1="410.5" y1="445" x2="410.5" y2="450.36" stroke="#000" stroke-width="1"/><text x="410.6" y="466.08" text-anchor="middle">100</text><line x1="472.5" y1="445" x2="472.5" y2="450.36" stroke="#000" stroke-width="1"/><text x="472.6" y="466.08" text-anchor="middle">120</text><line x1="534.5" y1="445" x2="534.5" y2="450.36" stroke="#000" stroke-width="1"/><text x="534.6" y="466.08" text-anchor="middle">140</text><line x1="596.5" y1="445" x2="596.5" y2="450.36" stroke="#000" stroke-width="1"/><text x="596.6" y="466.08" text-anchor="middle">160</text>
<line x1="100.5" y1="445.5" x2="95.64" y2="445.5" stroke="#000" stroke-width="1"/><text x="90.88" y="450.58" text-anchor="end">0</text><line x1="100.5" y1="368.5" x2="95.64" y2="368.5" stroke="#000" stroke-width="1"/><text x="90.88" y="373.88" text-anchor="end">500</text><line x1="100.5" y1="292.5" x2="95.64" y2="292.5" stroke="#000" stroke-width="1"/><text x="90.88" y="297.19" text-anchor="end">1000</text><line x1="100.5" y1="215.5" x2="95.64" y2="215.5" stroke="#000" stroke-width="1"/><text x="90.88" y="220.50" text-anchor="end">1500</text><line x1="100.5" y1="138.5" x2="95.64" y2="138.5" stroke="#000" stroke-width="1"/><text x="90.88" y="143.80" text-anchor="end">2000</text><line x1="100.5" y1="62.5" x2="95.64" y2="62.5" stroke="#000" stroke-width="1"/><text x="90.88" y="67.11" text-anchor="end">2500</text>
<text x="348.40" y="485.17" text-anchor="middle">Positions</text>
<text x="46.49" y="253.90" text-anchor="middle" transform="rotate(-90 46.49 253.90)">Sequences</text>
<text x="348.00" y="51.67" text-anchor="middle" style="font-size:16.667px">Sequence coverage</text>
<rect x="627" y="60" width="19" height="385" fill="url(#cb)"/>
<rect x="627.5" y="60.5" width="19" height="385" fill="none" stroke="#000" stroke-width="1"/>
<line x1="646.5" y1="445.5" x2="651.36" y2="445.5" stroke="#000" stroke-width="1"/><text x="656.77" y="450.68" text-anchor="start">0.0</text><line x1="646.5" y1="368.5" x2="651.36" y2="368.5" stroke="#000" stroke-width="1"/><text x="656.77" y="373.68" text-anchor="start">0.2</text><line x1="646.5" y1="291.5" x2="651.36" y2="291.5" stroke="#000" stroke-width="1"/><text x="656.77" y="296.68" text-anchor="start">0.4</text><line x1="646.5" y1="214.5" x2="651.36" y2="214.5" stroke="#000" stroke-width="1"/><text x="656.77" y="219.68" text-anchor="start">0.6</text><line x1="646.5" y1="137.5" x2="651.36" y2="137.5" stroke="#000" stroke-width="1"/><text x="656.77" y="142.68" text-anchor="start">0.8</text><line x1="646.5" y1="60.5" x2="651.36" y2="60.5" stroke="#000" stroke-width="1"/><text x="656.77" y="65.68" text-anchor="start">1.0</text>
<text x="694.17" y="253.00" text-anchor="middle" transform="rotate(-90 694.17 253.00)">Sequence identity to query</text>
</svg>
</body></html>
